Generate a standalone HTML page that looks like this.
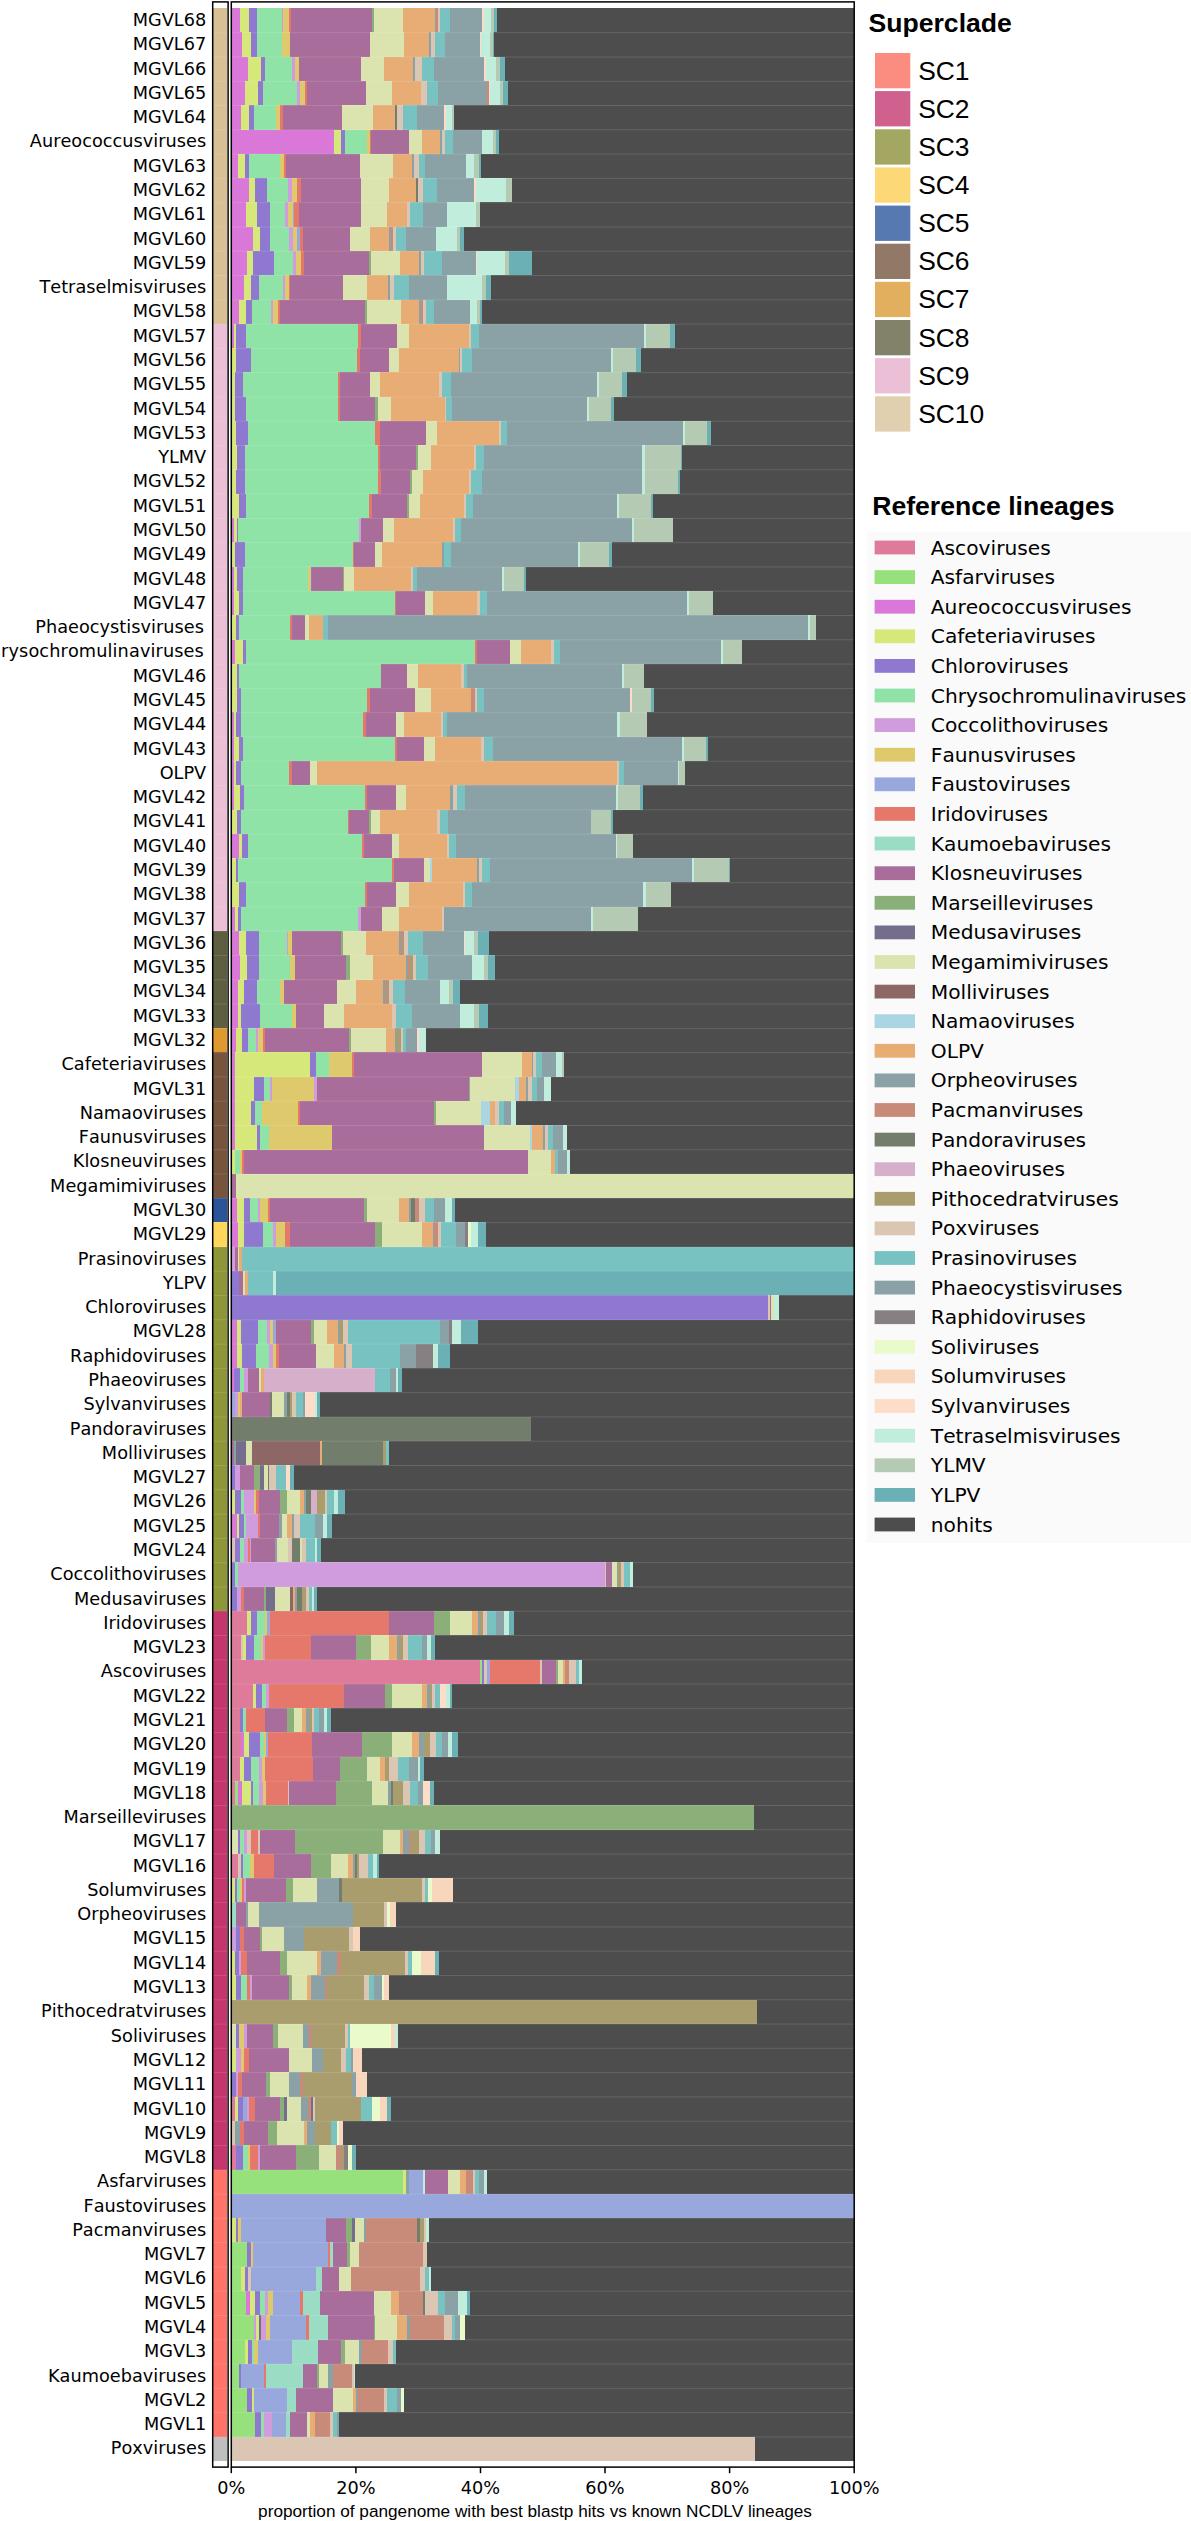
<!DOCTYPE html>
<html lang="en"><head><meta charset="utf-8"><title>Pangenome best blastp hits vs known NCLDV lineages</title>
<style>html,body{margin:0;padding:0;background:#fff}body{width:1191px;height:2521px;overflow:hidden}svg{display:block}.yl{font:17.7px "DejaVu Sans","Liberation Sans",sans-serif;font-kerning:none;fill:#000;text-anchor:end}.xt{font:17.7px "DejaVu Sans","Liberation Sans",sans-serif;font-kerning:none;fill:#000;text-anchor:middle}.xl{font:17.2px "Liberation Sans",sans-serif;fill:#000;text-anchor:middle}.lt{font:bold 26.6px "Liberation Sans",sans-serif;fill:#000}.sl{font:26.4px "Liberation Sans",sans-serif;fill:#000}.rl{font:20.2px "DejaVu Sans","Liberation Sans",sans-serif;font-kerning:none;fill:#000}</style></head><body>
<svg width="1191" height="2521" viewBox="0 0 1191 2521">
<rect width="1191" height="2521" fill="#fff"/>
<defs><filter id="soft" x="-0.02" y="-0.01" width="1.04" height="1.02" color-interpolation-filters="sRGB"><feGaussianBlur stdDeviation="0.5"/></filter></defs>
<g filter="url(#soft)"><g shape-rendering="crispEdges">
<rect x="231.3" y="8.1" width="622.9" height="2452.8" fill="#4D4D4D"/>
<rect x="231.3" y="8.1" width="9.1" height="24.3" fill="#DA78DA"/><rect x="240.1" y="8.1" width="9.6" height="24.3" fill="#D6E87A"/><rect x="249.4" y="8.1" width="7.6" height="24.3" fill="#8F78CF"/><rect x="256.7" y="8.1" width="25.2" height="24.3" fill="#8FE3A7"/><rect x="281.7" y="8.1" width="1.3" height="24.3" fill="#D09CDD"/><rect x="282.7" y="8.1" width="6.1" height="24.3" fill="#DECA6C"/><rect x="288.5" y="8.1" width="2.3" height="24.3" fill="#E5786B"/><rect x="290.5" y="8.1" width="81.4" height="24.3" fill="#A86D9B"/><rect x="371.6" y="8.1" width="2.3" height="24.3" fill="#8BAF79"/><rect x="373.6" y="8.1" width="29.8" height="24.3" fill="#DBE4AE"/><rect x="403.1" y="8.1" width="31.8" height="24.3" fill="#E8AC75"/><rect x="434.5" y="8.1" width="2.1" height="24.3" fill="#8AA2A5"/><rect x="436.3" y="8.1" width="2.3" height="24.3" fill="#C98B79"/><rect x="438.3" y="8.1" width="2.1" height="24.3" fill="#DBC6B4"/><rect x="440.1" y="8.1" width="10.4" height="24.3" fill="#78C3C1"/><rect x="450.2" y="8.1" width="31.8" height="24.3" fill="#8AA1A5"/><rect x="481.7" y="8.1" width="2.3" height="24.3" fill="#FDDCC8"/><rect x="483.7" y="8.1" width="7.9" height="24.3" fill="#C1EEDC"/><rect x="491.2" y="8.1" width="2.8" height="24.3" fill="#B5CAB2"/><rect x="493.7" y="8.1" width="2.8" height="24.3" fill="#6BB0B4"/>
<rect x="213.4" y="8.1" width="13.9" height="24.3" fill="#D9BF94"/>
<rect x="231.3" y="32.4" width="10.9" height="24.3" fill="#DA78DA"/><rect x="241.9" y="32.4" width="9.1" height="24.3" fill="#D6E87A"/><rect x="250.7" y="32.4" width="6.3" height="24.3" fill="#8F78CF"/><rect x="256.7" y="32.4" width="25.7" height="24.3" fill="#8FE3A7"/><rect x="282.2" y="32.4" width="7.9" height="24.3" fill="#DECA6C"/><rect x="289.7" y="32.4" width="80.9" height="24.3" fill="#A86D9B"/><rect x="370.3" y="32.4" width="33.5" height="24.3" fill="#DBE4AE"/><rect x="403.6" y="32.4" width="25.5" height="24.3" fill="#E8AC75"/><rect x="428.8" y="32.4" width="2.3" height="24.3" fill="#8AA2A5"/><rect x="430.8" y="32.4" width="4.1" height="24.3" fill="#DBC6B4"/><rect x="434.5" y="32.4" width="10.9" height="24.3" fill="#78C3C1"/><rect x="445.1" y="32.4" width="35.1" height="24.3" fill="#8AA1A5"/><rect x="479.9" y="32.4" width="1.6" height="24.3" fill="#FDDCC8"/><rect x="481.1" y="32.4" width="8.6" height="24.3" fill="#C1EEDC"/><rect x="489.5" y="32.4" width="3.8" height="24.3" fill="#B5CAB2"/><rect x="493" y="32.4" width="1.3" height="24.3" fill="#6BB0B4"/>
<rect x="213.4" y="32.4" width="13.9" height="24.3" fill="#D9BF94"/>
<rect x="231.3" y="56.7" width="17.2" height="24.3" fill="#DA78DA"/><rect x="248.2" y="56.7" width="13.4" height="24.3" fill="#D6E87A"/><rect x="261.2" y="56.7" width="3.6" height="24.3" fill="#8F78CF"/><rect x="264.5" y="56.7" width="27.3" height="24.3" fill="#8FE3A7"/><rect x="291.5" y="56.7" width="3.6" height="24.3" fill="#D09CDD"/><rect x="294.8" y="56.7" width="4.8" height="24.3" fill="#DECA6C"/><rect x="299.3" y="56.7" width="62" height="24.3" fill="#A86D9B"/><rect x="361" y="56.7" width="23.5" height="24.3" fill="#DBE4AE"/><rect x="384.2" y="56.7" width="29.3" height="24.3" fill="#E8AC75"/><rect x="413.1" y="56.7" width="2.1" height="24.3" fill="#8AA2A5"/><rect x="414.9" y="56.7" width="6.8" height="24.3" fill="#DBC6B4"/><rect x="421.5" y="56.7" width="12.6" height="24.3" fill="#78C3C1"/><rect x="433.8" y="56.7" width="50.7" height="24.3" fill="#8AA1A5"/><rect x="484.2" y="56.7" width="2.3" height="24.3" fill="#FDDCC8"/><rect x="486.2" y="56.7" width="9.6" height="24.3" fill="#C1EEDC"/><rect x="495.5" y="56.7" width="4.3" height="24.3" fill="#B5CAB2"/><rect x="499.5" y="56.7" width="5.1" height="24.3" fill="#6BB0B4"/>
<rect x="213.4" y="56.7" width="13.9" height="24.3" fill="#D9BF94"/>
<rect x="231.3" y="81" width="13.6" height="24.3" fill="#DA78DA"/><rect x="244.6" y="81" width="13.9" height="24.3" fill="#D6E87A"/><rect x="258.2" y="81" width="5.1" height="24.3" fill="#8F78CF"/><rect x="263" y="81" width="34.3" height="24.3" fill="#8FE3A7"/><rect x="297" y="81" width="3.6" height="24.3" fill="#D09CDD"/><rect x="300.3" y="81" width="4.8" height="24.3" fill="#DECA6C"/><rect x="304.8" y="81" width="2.1" height="24.3" fill="#E5786B"/><rect x="306.6" y="81" width="59.7" height="24.3" fill="#A86D9B"/><rect x="366" y="81" width="26.5" height="24.3" fill="#DBE4AE"/><rect x="392.2" y="81" width="28.8" height="24.3" fill="#E8AC75"/><rect x="420.7" y="81" width="6.1" height="24.3" fill="#DBC6B4"/><rect x="426.5" y="81" width="11.6" height="24.3" fill="#78C3C1"/><rect x="437.8" y="81" width="49.4" height="24.3" fill="#8AA1A5"/><rect x="486.9" y="81" width="1.8" height="24.3" fill="#C98B79"/><rect x="488.5" y="81" width="1.8" height="24.3" fill="#FDDCC8"/><rect x="490" y="81" width="10.4" height="24.3" fill="#C1EEDC"/><rect x="500" y="81" width="3.3" height="24.3" fill="#B5CAB2"/><rect x="503.1" y="81" width="4.8" height="24.3" fill="#6BB0B4"/>
<rect x="213.4" y="81" width="13.9" height="24.3" fill="#D9BF94"/>
<rect x="231.3" y="105.2" width="9.6" height="24.3" fill="#DA78DA"/><rect x="240.6" y="105.2" width="8.4" height="24.3" fill="#D6E87A"/><rect x="248.7" y="105.2" width="5.8" height="24.3" fill="#8F78CF"/><rect x="254.2" y="105.2" width="22" height="24.3" fill="#8FE3A7"/><rect x="275.9" y="105.2" width="4.8" height="24.3" fill="#DECA6C"/><rect x="280.4" y="105.2" width="2.6" height="24.3" fill="#E5786B"/><rect x="282.7" y="105.2" width="59.5" height="24.3" fill="#A86D9B"/><rect x="341.9" y="105.2" width="31.3" height="24.3" fill="#DBE4AE"/><rect x="372.8" y="105.2" width="22.2" height="24.3" fill="#E8AC75"/><rect x="394.8" y="105.2" width="2.8" height="24.3" fill="#737D6C"/><rect x="397.3" y="105.2" width="6.1" height="24.3" fill="#DBC6B4"/><rect x="403.1" y="105.2" width="14.2" height="24.3" fill="#78C3C1"/><rect x="416.9" y="105.2" width="27.5" height="24.3" fill="#8AA1A5"/><rect x="444.1" y="105.2" width="2.3" height="24.3" fill="#FDDCC8"/><rect x="446.1" y="105.2" width="6.3" height="24.3" fill="#C1EEDC"/><rect x="452.2" y="105.2" width="1.6" height="24.3" fill="#B5CAB2"/>
<rect x="213.4" y="105.2" width="13.9" height="24.3" fill="#D9BF94"/>
<rect x="231.3" y="129.5" width="103.3" height="24.3" fill="#DA78DA"/><rect x="334.3" y="129.5" width="6.8" height="24.3" fill="#D6E87A"/><rect x="340.8" y="129.5" width="4.6" height="24.3" fill="#8F78CF"/><rect x="345.1" y="129.5" width="21.7" height="24.3" fill="#8FE3A7"/><rect x="366.5" y="129.5" width="3.3" height="24.3" fill="#DECA6C"/><rect x="369.6" y="129.5" width="1.6" height="24.3" fill="#E5786B"/><rect x="370.8" y="129.5" width="38.8" height="24.3" fill="#A86D9B"/><rect x="409.4" y="129.5" width="12.4" height="24.3" fill="#DBE4AE"/><rect x="421.5" y="129.5" width="19.2" height="24.3" fill="#E8AC75"/><rect x="440.3" y="129.5" width="2.1" height="24.3" fill="#8AA2A5"/><rect x="442.1" y="129.5" width="3.3" height="24.3" fill="#DBC6B4"/><rect x="445.1" y="129.5" width="8.1" height="24.3" fill="#78C3C1"/><rect x="452.9" y="129.5" width="29" height="24.3" fill="#8AA1A5"/><rect x="481.7" y="129.5" width="11.1" height="24.3" fill="#C1EEDC"/><rect x="492.5" y="129.5" width="3.3" height="24.3" fill="#B5CAB2"/><rect x="495.5" y="129.5" width="3.6" height="24.3" fill="#6BB0B4"/>
<rect x="213.4" y="129.5" width="13.9" height="24.3" fill="#D9BF94"/>
<rect x="231.3" y="153.8" width="7.1" height="24.3" fill="#DA78DA"/><rect x="238.1" y="153.8" width="7.4" height="24.3" fill="#D6E87A"/><rect x="245.1" y="153.8" width="4.1" height="24.3" fill="#8F78CF"/><rect x="248.9" y="153.8" width="31" height="24.3" fill="#8FE3A7"/><rect x="279.6" y="153.8" width="4.6" height="24.3" fill="#DECA6C"/><rect x="283.9" y="153.8" width="2.3" height="24.3" fill="#E5786B"/><rect x="285.9" y="153.8" width="74.1" height="24.3" fill="#A86D9B"/><rect x="359.7" y="153.8" width="33.5" height="24.3" fill="#DBE4AE"/><rect x="393" y="153.8" width="19.7" height="24.3" fill="#E8AC75"/><rect x="412.4" y="153.8" width="2.3" height="24.3" fill="#8AA2A5"/><rect x="414.4" y="153.8" width="4.6" height="24.3" fill="#DBC6B4"/><rect x="418.7" y="153.8" width="6.8" height="24.3" fill="#78C3C1"/><rect x="425.2" y="153.8" width="40.6" height="24.3" fill="#8AA1A5"/><rect x="465.5" y="153.8" width="8.4" height="24.3" fill="#C1EEDC"/><rect x="473.6" y="153.8" width="5.3" height="24.3" fill="#B5CAB2"/><rect x="478.6" y="153.8" width="2.3" height="24.3" fill="#6BB0B4"/>
<rect x="213.4" y="153.8" width="13.9" height="24.3" fill="#D9BF94"/>
<rect x="231.3" y="178.1" width="17.7" height="24.3" fill="#DA78DA"/><rect x="248.7" y="178.1" width="6.8" height="24.3" fill="#D6E87A"/><rect x="255.2" y="178.1" width="12.1" height="24.3" fill="#8F78CF"/><rect x="267" y="178.1" width="21.2" height="24.3" fill="#8FE3A7"/><rect x="287.9" y="178.1" width="4.6" height="24.3" fill="#D09CDD"/><rect x="292.2" y="178.1" width="4.6" height="24.3" fill="#DECA6C"/><rect x="296.5" y="178.1" width="4.8" height="24.3" fill="#E5786B"/><rect x="301" y="178.1" width="60.2" height="24.3" fill="#A86D9B"/><rect x="361" y="178.1" width="27.8" height="24.3" fill="#DBE4AE"/><rect x="388.5" y="178.1" width="27.5" height="24.3" fill="#E8AC75"/><rect x="415.7" y="178.1" width="2.8" height="24.3" fill="#737D6C"/><rect x="418.2" y="178.1" width="5.3" height="24.3" fill="#DBC6B4"/><rect x="423.2" y="178.1" width="13.7" height="24.3" fill="#78C3C1"/><rect x="436.6" y="178.1" width="38.1" height="24.3" fill="#8AA1A5"/><rect x="474.3" y="178.1" width="2.3" height="24.3" fill="#FDDCC8"/><rect x="476.4" y="178.1" width="30.3" height="24.3" fill="#C1EEDC"/><rect x="506.3" y="178.1" width="5.3" height="24.3" fill="#B5CAB2"/>
<rect x="213.4" y="178.1" width="13.9" height="24.3" fill="#D9BF94"/>
<rect x="231.3" y="202.4" width="15.1" height="24.3" fill="#DA78DA"/><rect x="246.1" y="202.4" width="10.6" height="24.3" fill="#D6E87A"/><rect x="256.5" y="202.4" width="14.2" height="24.3" fill="#8F78CF"/><rect x="270.3" y="202.4" width="14.7" height="24.3" fill="#8FE3A7"/><rect x="284.7" y="202.4" width="3.3" height="24.3" fill="#D09CDD"/><rect x="287.7" y="202.4" width="5.3" height="24.3" fill="#DECA6C"/><rect x="292.7" y="202.4" width="1.6" height="24.3" fill="#98A8DD"/><rect x="294" y="202.4" width="4.8" height="24.3" fill="#E5786B"/><rect x="298.5" y="202.4" width="62.5" height="24.3" fill="#A86D9B"/><rect x="360.7" y="202.4" width="26.2" height="24.3" fill="#DBE4AE"/><rect x="386.7" y="202.4" width="21" height="24.3" fill="#E8AC75"/><rect x="407.3" y="202.4" width="3.3" height="24.3" fill="#DBC6B4"/><rect x="410.4" y="202.4" width="12.4" height="24.3" fill="#78C3C1"/><rect x="422.5" y="202.4" width="24.5" height="24.3" fill="#8AA1A5"/><rect x="446.6" y="202.4" width="29.8" height="24.3" fill="#C1EEDC"/><rect x="476.1" y="202.4" width="4.1" height="24.3" fill="#B5CAB2"/>
<rect x="213.4" y="202.4" width="13.9" height="24.3" fill="#D9BF94"/>
<rect x="231.3" y="226.7" width="22.2" height="24.3" fill="#DA78DA"/><rect x="253.2" y="226.7" width="7.1" height="24.3" fill="#D6E87A"/><rect x="260" y="226.7" width="9.9" height="24.3" fill="#8F78CF"/><rect x="269.6" y="226.7" width="19.9" height="24.3" fill="#8FE3A7"/><rect x="289.2" y="226.7" width="3.6" height="24.3" fill="#D09CDD"/><rect x="292.5" y="226.7" width="4.6" height="24.3" fill="#DECA6C"/><rect x="296.8" y="226.7" width="3.1" height="24.3" fill="#98A8DD"/><rect x="299.5" y="226.7" width="3.6" height="24.3" fill="#E5786B"/><rect x="302.8" y="226.7" width="47.7" height="24.3" fill="#A86D9B"/><rect x="350.2" y="226.7" width="20.5" height="24.3" fill="#DBE4AE"/><rect x="370.3" y="226.7" width="19.2" height="24.3" fill="#E8AC75"/><rect x="389.2" y="226.7" width="2.3" height="24.3" fill="#8AA2A5"/><rect x="391.2" y="226.7" width="2.1" height="24.3" fill="#C98B79"/><rect x="393" y="226.7" width="3.6" height="24.3" fill="#DBC6B4"/><rect x="396.3" y="226.7" width="10.4" height="24.3" fill="#78C3C1"/><rect x="406.3" y="226.7" width="30" height="24.3" fill="#8AA1A5"/><rect x="436.1" y="226.7" width="20.7" height="24.3" fill="#C1EEDC"/><rect x="456.5" y="226.7" width="3.6" height="24.3" fill="#B5CAB2"/><rect x="459.7" y="226.7" width="4.6" height="24.3" fill="#6BB0B4"/>
<rect x="213.4" y="226.7" width="13.9" height="24.3" fill="#D9BF94"/>
<rect x="231.3" y="250.9" width="15.9" height="24.3" fill="#DA78DA"/><rect x="246.9" y="250.9" width="6.6" height="24.3" fill="#D6E87A"/><rect x="253.2" y="250.9" width="21.2" height="24.3" fill="#8F78CF"/><rect x="274.1" y="250.9" width="18.9" height="24.3" fill="#8FE3A7"/><rect x="292.7" y="250.9" width="3.6" height="24.3" fill="#D09CDD"/><rect x="296" y="250.9" width="4.8" height="24.3" fill="#DECA6C"/><rect x="300.5" y="250.9" width="3.3" height="24.3" fill="#E5786B"/><rect x="303.6" y="250.9" width="65.8" height="24.3" fill="#A86D9B"/><rect x="369.1" y="250.9" width="2.1" height="24.3" fill="#8BAF79"/><rect x="370.8" y="250.9" width="29.3" height="24.3" fill="#DBE4AE"/><rect x="399.8" y="250.9" width="19.2" height="24.3" fill="#E8AC75"/><rect x="418.7" y="250.9" width="2.3" height="24.3" fill="#8AA2A5"/><rect x="420.7" y="250.9" width="3.3" height="24.3" fill="#DBC6B4"/><rect x="423.7" y="250.9" width="18.7" height="24.3" fill="#78C3C1"/><rect x="442.1" y="250.9" width="33.8" height="24.3" fill="#8AA1A5"/><rect x="475.6" y="250.9" width="2.1" height="24.3" fill="#FDDCC8"/><rect x="477.4" y="250.9" width="28" height="24.3" fill="#C1EEDC"/><rect x="505.1" y="250.9" width="4.6" height="24.3" fill="#B5CAB2"/><rect x="509.4" y="250.9" width="22.5" height="24.3" fill="#6BB0B4"/>
<rect x="213.4" y="250.9" width="13.9" height="24.3" fill="#D9BF94"/>
<rect x="231.3" y="275.2" width="12.6" height="24.3" fill="#DA78DA"/><rect x="243.6" y="275.2" width="7.4" height="24.3" fill="#D6E87A"/><rect x="250.7" y="275.2" width="8.6" height="24.3" fill="#8F78CF"/><rect x="259" y="275.2" width="24.2" height="24.3" fill="#8FE3A7"/><rect x="282.9" y="275.2" width="2.1" height="24.3" fill="#D09CDD"/><rect x="284.7" y="275.2" width="4.1" height="24.3" fill="#DECA6C"/><rect x="288.5" y="275.2" width="2.1" height="24.3" fill="#E5786B"/><rect x="290.2" y="275.2" width="53.4" height="24.3" fill="#A86D9B"/><rect x="343.4" y="275.2" width="23.5" height="24.3" fill="#DBE4AE"/><rect x="366.5" y="275.2" width="21.7" height="24.3" fill="#E8AC75"/><rect x="387.9" y="275.2" width="2.3" height="24.3" fill="#8AA2A5"/><rect x="390" y="275.2" width="3.8" height="24.3" fill="#DBC6B4"/><rect x="393.5" y="275.2" width="15.7" height="24.3" fill="#78C3C1"/><rect x="408.9" y="275.2" width="38.6" height="24.3" fill="#8AA1A5"/><rect x="447.1" y="275.2" width="35.1" height="24.3" fill="#C1EEDC"/><rect x="481.9" y="275.2" width="4.6" height="24.3" fill="#B5CAB2"/><rect x="486.2" y="275.2" width="4.6" height="24.3" fill="#6BB0B4"/>
<rect x="213.4" y="275.2" width="13.9" height="24.3" fill="#D9BF94"/>
<rect x="231.3" y="299.5" width="7.8" height="24.3" fill="#DA78DA"/><rect x="238.8" y="299.5" width="7.9" height="24.3" fill="#D6E87A"/><rect x="246.4" y="299.5" width="5.6" height="24.3" fill="#8F78CF"/><rect x="251.7" y="299.5" width="19.9" height="24.3" fill="#8FE3A7"/><rect x="271.3" y="299.5" width="1.6" height="24.3" fill="#D09CDD"/><rect x="272.6" y="299.5" width="5.3" height="24.3" fill="#DECA6C"/><rect x="277.6" y="299.5" width="2.3" height="24.3" fill="#E5786B"/><rect x="279.6" y="299.5" width="85.9" height="24.3" fill="#A86D9B"/><rect x="365.3" y="299.5" width="2.3" height="24.3" fill="#8BAF79"/><rect x="367.3" y="299.5" width="34.3" height="24.3" fill="#DBE4AE"/><rect x="401.3" y="299.5" width="17.7" height="24.3" fill="#E8AC75"/><rect x="418.7" y="299.5" width="2.3" height="24.3" fill="#8AA2A5"/><rect x="420.7" y="299.5" width="2.1" height="24.3" fill="#C98B79"/><rect x="422.5" y="299.5" width="4.1" height="24.3" fill="#DBC6B4"/><rect x="426.2" y="299.5" width="7.9" height="24.3" fill="#78C3C1"/><rect x="433.8" y="299.5" width="36.3" height="24.3" fill="#8AA1A5"/><rect x="469.8" y="299.5" width="7.9" height="24.3" fill="#C1EEDC"/><rect x="477.4" y="299.5" width="2.8" height="24.3" fill="#B5CAB2"/><rect x="479.9" y="299.5" width="2.1" height="24.3" fill="#6BB0B4"/>
<rect x="213.4" y="299.5" width="13.9" height="24.3" fill="#D9BF94"/>
<rect x="231.3" y="323.8" width="2.5" height="24.3" fill="#DA78DA"/><rect x="233.5" y="323.8" width="3.1" height="24.3" fill="#D6E87A"/><rect x="236.3" y="323.8" width="10.1" height="24.3" fill="#8F78CF"/><rect x="246.1" y="323.8" width="112.4" height="24.3" fill="#8FE3A7"/><rect x="358.2" y="323.8" width="3.1" height="24.3" fill="#E5786B"/><rect x="361" y="323.8" width="36.6" height="24.3" fill="#A86D9B"/><rect x="397.3" y="323.8" width="12.4" height="24.3" fill="#DBE4AE"/><rect x="409.4" y="323.8" width="60" height="24.3" fill="#E8AC75"/><rect x="469.1" y="323.8" width="2.3" height="24.3" fill="#DBC6B4"/><rect x="471.1" y="323.8" width="8.4" height="24.3" fill="#78C3C1"/><rect x="479.1" y="323.8" width="165.3" height="24.3" fill="#8AA1A5"/><rect x="644.2" y="323.8" width="2.3" height="24.3" fill="#C1EEDC"/><rect x="646.2" y="323.8" width="24.6" height="24.3" fill="#B5CAB2"/><rect x="670.4" y="323.8" width="4.9" height="24.3" fill="#6BB0B4"/>
<rect x="213.4" y="323.8" width="13.9" height="24.3" fill="#EBBFD6"/>
<rect x="231.3" y="348.1" width="4.6" height="24.3" fill="#D6E87A"/><rect x="235.6" y="348.1" width="15.9" height="24.3" fill="#8F78CF"/><rect x="251.2" y="348.1" width="106.1" height="24.3" fill="#8FE3A7"/><rect x="357" y="348.1" width="2.8" height="24.3" fill="#E5786B"/><rect x="359.5" y="348.1" width="30" height="24.3" fill="#A86D9B"/><rect x="389.2" y="348.1" width="9.9" height="24.3" fill="#DBE4AE"/><rect x="398.8" y="348.1" width="60" height="24.3" fill="#E8AC75"/><rect x="458.5" y="348.1" width="2.1" height="24.3" fill="#8AA2A5"/><rect x="460.2" y="348.1" width="2.3" height="24.3" fill="#DBC6B4"/><rect x="462.3" y="348.1" width="10.4" height="24.3" fill="#78C3C1"/><rect x="472.3" y="348.1" width="138.7" height="24.3" fill="#8AA1A5"/><rect x="610.8" y="348.1" width="2.6" height="24.3" fill="#C1EEDC"/><rect x="613.1" y="348.1" width="22.9" height="24.3" fill="#B5CAB2"/><rect x="635.6" y="348.1" width="5.2" height="24.3" fill="#6BB0B4"/>
<rect x="213.4" y="348.1" width="13.9" height="24.3" fill="#EBBFD6"/>
<rect x="231.3" y="372.4" width="3.8" height="24.3" fill="#D6E87A"/><rect x="234.8" y="372.4" width="8.6" height="24.3" fill="#8F78CF"/><rect x="243.1" y="372.4" width="94.8" height="24.3" fill="#8FE3A7"/><rect x="337.6" y="372.4" width="2.3" height="24.3" fill="#E5786B"/><rect x="339.6" y="372.4" width="30.3" height="24.3" fill="#A86D9B"/><rect x="369.6" y="372.4" width="10.4" height="24.3" fill="#DBE4AE"/><rect x="379.6" y="372.4" width="59.5" height="24.3" fill="#E8AC75"/><rect x="438.8" y="372.4" width="3.6" height="24.3" fill="#DBC6B4"/><rect x="442.1" y="372.4" width="9.1" height="24.3" fill="#78C3C1"/><rect x="450.9" y="372.4" width="146.5" height="24.3" fill="#8AA1A5"/><rect x="597.1" y="372.4" width="2.6" height="24.3" fill="#C1EEDC"/><rect x="599.4" y="372.4" width="22.9" height="24.3" fill="#B5CAB2"/><rect x="621.9" y="372.4" width="5.4" height="24.3" fill="#6BB0B4"/>
<rect x="213.4" y="372.4" width="13.9" height="24.3" fill="#EBBFD6"/>
<rect x="231.3" y="396.7" width="4.1" height="24.3" fill="#D6E87A"/><rect x="235.1" y="396.7" width="10.9" height="24.3" fill="#8F78CF"/><rect x="245.6" y="396.7" width="92.7" height="24.3" fill="#8FE3A7"/><rect x="338.1" y="396.7" width="1.8" height="24.3" fill="#E5786B"/><rect x="339.6" y="396.7" width="36.1" height="24.3" fill="#A86D9B"/><rect x="375.4" y="396.7" width="3.3" height="24.3" fill="#8BAF79"/><rect x="378.4" y="396.7" width="13.1" height="24.3" fill="#DBE4AE"/><rect x="391.2" y="396.7" width="53.7" height="24.3" fill="#E8AC75"/><rect x="444.6" y="396.7" width="2.1" height="24.3" fill="#DBC6B4"/><rect x="446.4" y="396.7" width="6.1" height="24.3" fill="#78C3C1"/><rect x="452.2" y="396.7" width="135.2" height="24.3" fill="#8AA1A5"/><rect x="587.1" y="396.7" width="2.6" height="24.3" fill="#C1EEDC"/><rect x="589.4" y="396.7" width="21.4" height="24.3" fill="#B5CAB2"/><rect x="610.5" y="396.7" width="3.2" height="24.3" fill="#6BB0B4"/>
<rect x="213.4" y="396.7" width="13.9" height="24.3" fill="#EBBFD6"/>
<rect x="231.3" y="420.9" width="5.1" height="24.3" fill="#D6E87A"/><rect x="236.1" y="420.9" width="12.4" height="24.3" fill="#8F78CF"/><rect x="248.2" y="420.9" width="127" height="24.3" fill="#8FE3A7"/><rect x="374.9" y="420.9" width="5.3" height="24.3" fill="#E5786B"/><rect x="379.9" y="420.9" width="46.1" height="24.3" fill="#A86D9B"/><rect x="425.7" y="420.9" width="11.1" height="24.3" fill="#DBE4AE"/><rect x="436.6" y="420.9" width="63" height="24.3" fill="#E8AC75"/><rect x="499.3" y="420.9" width="2.3" height="24.3" fill="#DBC6B4"/><rect x="501.3" y="420.9" width="6.1" height="24.3" fill="#78C3C1"/><rect x="507.1" y="420.9" width="176.5" height="24.3" fill="#8AA1A5"/><rect x="683.3" y="420.9" width="2" height="24.3" fill="#C1EEDC"/><rect x="685" y="420.9" width="22.3" height="24.3" fill="#B5CAB2"/><rect x="707" y="420.9" width="4" height="24.3" fill="#6BB0B4"/>
<rect x="213.4" y="420.9" width="13.9" height="24.3" fill="#EBBFD6"/>
<rect x="231.3" y="445.2" width="6.3" height="24.3" fill="#D6E87A"/><rect x="237.3" y="445.2" width="7.9" height="24.3" fill="#8F78CF"/><rect x="244.9" y="445.2" width="133.3" height="24.3" fill="#8FE3A7"/><rect x="377.9" y="445.2" width="2.8" height="24.3" fill="#E5786B"/><rect x="380.4" y="445.2" width="36.1" height="24.3" fill="#A86D9B"/><rect x="416.2" y="445.2" width="2.3" height="24.3" fill="#8BAF79"/><rect x="418.2" y="445.2" width="12.9" height="24.3" fill="#DBE4AE"/><rect x="430.8" y="445.2" width="43.6" height="24.3" fill="#E8AC75"/><rect x="474.1" y="445.2" width="2.3" height="24.3" fill="#DBC6B4"/><rect x="476.1" y="445.2" width="7.9" height="24.3" fill="#78C3C1"/><rect x="483.7" y="445.2" width="158.8" height="24.3" fill="#8AA1A5"/><rect x="642.2" y="445.2" width="2.6" height="24.3" fill="#C1EEDC"/><rect x="644.5" y="445.2" width="36.6" height="24.3" fill="#B5CAB2"/><rect x="680.7" y="445.2" width="1.4" height="24.3" fill="#6BB0B4"/>
<rect x="213.4" y="445.2" width="13.9" height="24.3" fill="#EBBFD6"/>
<rect x="231.3" y="469.5" width="5.3" height="24.3" fill="#D6E87A"/><rect x="236.3" y="469.5" width="8.9" height="24.3" fill="#8F78CF"/><rect x="244.9" y="469.5" width="133.8" height="24.3" fill="#8FE3A7"/><rect x="378.4" y="469.5" width="2.8" height="24.3" fill="#E5786B"/><rect x="380.9" y="469.5" width="29.5" height="24.3" fill="#A86D9B"/><rect x="410.1" y="469.5" width="2.1" height="24.3" fill="#8BAF79"/><rect x="411.9" y="469.5" width="11.1" height="24.3" fill="#DBE4AE"/><rect x="422.7" y="469.5" width="46.1" height="24.3" fill="#E8AC75"/><rect x="468.6" y="469.5" width="2.3" height="24.3" fill="#DBC6B4"/><rect x="470.6" y="469.5" width="11.4" height="24.3" fill="#78C3C1"/><rect x="481.7" y="469.5" width="160.8" height="24.3" fill="#8AA1A5"/><rect x="642.2" y="469.5" width="2.6" height="24.3" fill="#C1EEDC"/><rect x="644.5" y="469.5" width="34.3" height="24.3" fill="#B5CAB2"/><rect x="678.4" y="469.5" width="2" height="24.3" fill="#6BB0B4"/>
<rect x="213.4" y="469.5" width="13.9" height="24.3" fill="#EBBFD6"/>
<rect x="231.3" y="493.8" width="7.6" height="24.3" fill="#D6E87A"/><rect x="238.6" y="493.8" width="7.9" height="24.3" fill="#8F78CF"/><rect x="246.1" y="493.8" width="123.2" height="24.3" fill="#8FE3A7"/><rect x="369.1" y="493.8" width="2.8" height="24.3" fill="#E5786B"/><rect x="371.6" y="493.8" width="36.1" height="24.3" fill="#A86D9B"/><rect x="407.3" y="493.8" width="2.3" height="24.3" fill="#8BAF79"/><rect x="409.4" y="493.8" width="11.1" height="24.3" fill="#DBE4AE"/><rect x="420.2" y="493.8" width="43.6" height="24.3" fill="#E8AC75"/><rect x="463.5" y="493.8" width="2.8" height="24.3" fill="#DBC6B4"/><rect x="466" y="493.8" width="7.4" height="24.3" fill="#78C3C1"/><rect x="473.1" y="493.8" width="143.7" height="24.3" fill="#8AA1A5"/><rect x="616.5" y="493.8" width="2.3" height="24.3" fill="#C1EEDC"/><rect x="618.5" y="493.8" width="32.3" height="24.3" fill="#B5CAB2"/><rect x="650.5" y="493.8" width="2.6" height="24.3" fill="#6BB0B4"/>
<rect x="213.4" y="493.8" width="13.9" height="24.3" fill="#EBBFD6"/>
<rect x="231.3" y="518.1" width="3.3" height="24.3" fill="#DA78DA"/><rect x="234.3" y="518.1" width="2.8" height="24.3" fill="#D6E87A"/><rect x="236.8" y="518.1" width="1.6" height="24.3" fill="#8F78CF"/><rect x="238.1" y="518.1" width="121.2" height="24.3" fill="#8FE3A7"/><rect x="359" y="518.1" width="2.3" height="24.3" fill="#D09CDD"/><rect x="361" y="518.1" width="22.7" height="24.3" fill="#A86D9B"/><rect x="383.4" y="518.1" width="11.1" height="24.3" fill="#DBE4AE"/><rect x="394.2" y="518.1" width="59" height="24.3" fill="#E8AC75"/><rect x="452.9" y="518.1" width="2.1" height="24.3" fill="#DBC6B4"/><rect x="454.7" y="518.1" width="6.6" height="24.3" fill="#78C3C1"/><rect x="461" y="518.1" width="171.5" height="24.3" fill="#8AA1A5"/><rect x="632.2" y="518.1" width="2.3" height="24.3" fill="#C1EEDC"/><rect x="634.2" y="518.1" width="38.3" height="24.3" fill="#B5CAB2"/>
<rect x="213.4" y="518.1" width="13.9" height="24.3" fill="#EBBFD6"/>
<rect x="231.3" y="542.4" width="4.1" height="24.3" fill="#D6E87A"/><rect x="235.1" y="542.4" width="10.1" height="24.3" fill="#8F78CF"/><rect x="244.9" y="542.4" width="108.1" height="24.3" fill="#8FE3A7"/><rect x="352.7" y="542.4" width="1.6" height="24.3" fill="#E5786B"/><rect x="353.9" y="542.4" width="21.7" height="24.3" fill="#A86D9B"/><rect x="375.4" y="542.4" width="7.1" height="24.3" fill="#DBE4AE"/><rect x="382.2" y="542.4" width="59.7" height="24.3" fill="#E8AC75"/><rect x="441.6" y="542.4" width="2.6" height="24.3" fill="#8AA2A5"/><rect x="443.9" y="542.4" width="7.4" height="24.3" fill="#78C3C1"/><rect x="450.9" y="542.4" width="127.3" height="24.3" fill="#8AA1A5"/><rect x="578" y="542.4" width="2.3" height="24.3" fill="#C1EEDC"/><rect x="579.9" y="542.4" width="29.4" height="24.3" fill="#B5CAB2"/><rect x="609.1" y="542.4" width="3.2" height="24.3" fill="#6BB0B4"/>
<rect x="213.4" y="542.4" width="13.9" height="24.3" fill="#EBBFD6"/>
<rect x="231.3" y="566.7" width="3.3" height="24.3" fill="#DA78DA"/><rect x="234.3" y="566.7" width="2.8" height="24.3" fill="#D6E87A"/><rect x="236.8" y="566.7" width="6.6" height="24.3" fill="#8F78CF"/><rect x="243.1" y="566.7" width="65.3" height="24.3" fill="#8FE3A7"/><rect x="308.1" y="566.7" width="2.8" height="24.3" fill="#DECA6C"/><rect x="310.6" y="566.7" width="2.1" height="24.3" fill="#8F78CF"/><rect x="312.4" y="566.7" width="30.5" height="24.3" fill="#A86D9B"/><rect x="342.6" y="566.7" width="2.1" height="24.3" fill="#8BAF79"/><rect x="344.4" y="566.7" width="10.4" height="24.3" fill="#DBE4AE"/><rect x="354.4" y="566.7" width="56.5" height="24.3" fill="#E8AC75"/><rect x="410.6" y="566.7" width="2.8" height="24.3" fill="#DBC6B4"/><rect x="413.1" y="566.7" width="4.6" height="24.3" fill="#78C3C1"/><rect x="417.4" y="566.7" width="84.7" height="24.3" fill="#8AA1A5"/><rect x="501.8" y="566.7" width="2.3" height="24.3" fill="#C1EEDC"/><rect x="503.8" y="566.7" width="20.5" height="24.3" fill="#B5CAB2"/><rect x="524" y="566.7" width="2.3" height="24.3" fill="#6BB0B4"/>
<rect x="213.4" y="566.7" width="13.9" height="24.3" fill="#EBBFD6"/>
<rect x="231.3" y="590.9" width="2.5" height="24.3" fill="#DA78DA"/><rect x="233.5" y="590.9" width="5.6" height="24.3" fill="#D6E87A"/><rect x="238.8" y="590.9" width="4.6" height="24.3" fill="#8F78CF"/><rect x="243.1" y="590.9" width="151.9" height="24.3" fill="#8FE3A7"/><rect x="394.8" y="590.9" width="1.8" height="24.3" fill="#E5786B"/><rect x="396.3" y="590.9" width="29.3" height="24.3" fill="#A86D9B"/><rect x="425.2" y="590.9" width="7.9" height="24.3" fill="#DBE4AE"/><rect x="432.8" y="590.9" width="44.9" height="24.3" fill="#E8AC75"/><rect x="477.4" y="590.9" width="2.8" height="24.3" fill="#DBC6B4"/><rect x="479.9" y="590.9" width="7.1" height="24.3" fill="#78C3C1"/><rect x="486.7" y="590.9" width="200.6" height="24.3" fill="#8AA1A5"/><rect x="687" y="590.9" width="2" height="24.3" fill="#C1EEDC"/><rect x="688.7" y="590.9" width="24.3" height="24.3" fill="#B5CAB2"/>
<rect x="213.4" y="590.9" width="13.9" height="24.3" fill="#EBBFD6"/>
<rect x="231.3" y="615.2" width="5.3" height="24.3" fill="#D6E87A"/><rect x="236.3" y="615.2" width="2.8" height="24.3" fill="#8F78CF"/><rect x="238.8" y="615.2" width="51.7" height="24.3" fill="#8FE3A7"/><rect x="290.2" y="615.2" width="1.6" height="24.3" fill="#E5786B"/><rect x="291.5" y="615.2" width="13.7" height="24.3" fill="#A86D9B"/><rect x="304.8" y="615.2" width="4.6" height="24.3" fill="#DBE4AE"/><rect x="309.1" y="615.2" width="13.7" height="24.3" fill="#E8AC75"/><rect x="322.5" y="615.2" width="5.8" height="24.3" fill="#78C3C1"/><rect x="328" y="615.2" width="480.6" height="24.3" fill="#8AA1A5"/><rect x="808.3" y="615.2" width="1.7" height="24.3" fill="#C1EEDC"/><rect x="809.8" y="615.2" width="6" height="24.3" fill="#B5CAB2"/>
<rect x="213.4" y="615.2" width="13.9" height="24.3" fill="#EBBFD6"/>
<rect x="231.3" y="639.5" width="3.8" height="24.3" fill="#DA78DA"/><rect x="234.8" y="639.5" width="8.1" height="24.3" fill="#D6E87A"/><rect x="242.6" y="639.5" width="4.1" height="24.3" fill="#8F78CF"/><rect x="246.4" y="639.5" width="229.3" height="24.3" fill="#8FE3A7"/><rect x="475.4" y="639.5" width="2.3" height="24.3" fill="#E5786B"/><rect x="477.4" y="639.5" width="33" height="24.3" fill="#A86D9B"/><rect x="510.1" y="639.5" width="11.1" height="24.3" fill="#DBE4AE"/><rect x="520.9" y="639.5" width="30.2" height="24.3" fill="#E8AC75"/><rect x="550.8" y="639.5" width="3.7" height="24.3" fill="#DBC6B4"/><rect x="554.3" y="639.5" width="6" height="24.3" fill="#78C3C1"/><rect x="560" y="639.5" width="161.6" height="24.3" fill="#8AA1A5"/><rect x="721.3" y="639.5" width="2.3" height="24.3" fill="#C1EEDC"/><rect x="723.3" y="639.5" width="18.9" height="24.3" fill="#B5CAB2"/>
<rect x="213.4" y="639.5" width="13.9" height="24.3" fill="#EBBFD6"/>
<rect x="231.3" y="663.8" width="6.3" height="24.3" fill="#D6E87A"/><rect x="237.3" y="663.8" width="1.8" height="24.3" fill="#8F78CF"/><rect x="238.8" y="663.8" width="142.4" height="24.3" fill="#8FE3A7"/><rect x="380.9" y="663.8" width="26.2" height="24.3" fill="#A86D9B"/><rect x="406.8" y="663.8" width="11.6" height="24.3" fill="#DBE4AE"/><rect x="418.2" y="663.8" width="43.1" height="24.3" fill="#E8AC75"/><rect x="461" y="663.8" width="2.8" height="24.3" fill="#DBC6B4"/><rect x="463.5" y="663.8" width="3.3" height="24.3" fill="#78C3C1"/><rect x="466.5" y="663.8" width="155.7" height="24.3" fill="#8AA1A5"/><rect x="621.9" y="663.8" width="2" height="24.3" fill="#C1EEDC"/><rect x="623.6" y="663.8" width="20.3" height="24.3" fill="#B5CAB2"/>
<rect x="213.4" y="663.8" width="13.9" height="24.3" fill="#EBBFD6"/>
<rect x="231.3" y="688.1" width="6.3" height="24.3" fill="#D6E87A"/><rect x="237.3" y="688.1" width="3.6" height="24.3" fill="#8F78CF"/><rect x="240.6" y="688.1" width="126.2" height="24.3" fill="#8FE3A7"/><rect x="366.5" y="688.1" width="3.3" height="24.3" fill="#E5786B"/><rect x="369.6" y="688.1" width="45.6" height="24.3" fill="#A86D9B"/><rect x="414.9" y="688.1" width="16.4" height="24.3" fill="#DBE4AE"/><rect x="431" y="688.1" width="40.4" height="24.3" fill="#E8AC75"/><rect x="471.1" y="688.1" width="4.1" height="24.3" fill="#C98B79"/><rect x="474.9" y="688.1" width="2.1" height="24.3" fill="#DBC6B4"/><rect x="476.6" y="688.1" width="7.9" height="24.3" fill="#78C3C1"/><rect x="484.2" y="688.1" width="146" height="24.3" fill="#8AA1A5"/><rect x="629.9" y="688.1" width="2.3" height="24.3" fill="#FDDCC8"/><rect x="631.9" y="688.1" width="19.7" height="24.3" fill="#B5CAB2"/><rect x="651.3" y="688.1" width="2.6" height="24.3" fill="#6BB0B4"/>
<rect x="213.4" y="688.1" width="13.9" height="24.3" fill="#EBBFD6"/>
<rect x="231.3" y="712.4" width="3.3" height="24.3" fill="#DA78DA"/><rect x="234.3" y="712.4" width="2.3" height="24.3" fill="#D6E87A"/><rect x="236.3" y="712.4" width="5.3" height="24.3" fill="#8F78CF"/><rect x="241.4" y="712.4" width="121.7" height="24.3" fill="#8FE3A7"/><rect x="362.8" y="712.4" width="3.6" height="24.3" fill="#E5786B"/><rect x="366" y="712.4" width="29.8" height="24.3" fill="#A86D9B"/><rect x="395.5" y="712.4" width="8.4" height="24.3" fill="#DBE4AE"/><rect x="403.6" y="712.4" width="37.6" height="24.3" fill="#E8AC75"/><rect x="440.8" y="712.4" width="2.1" height="24.3" fill="#DBC6B4"/><rect x="442.6" y="712.4" width="4.3" height="24.3" fill="#78C3C1"/><rect x="446.6" y="712.4" width="170.7" height="24.3" fill="#8AA1A5"/><rect x="617.1" y="712.4" width="3.2" height="24.3" fill="#C1EEDC"/><rect x="619.9" y="712.4" width="26.8" height="24.3" fill="#B5CAB2"/>
<rect x="213.4" y="712.4" width="13.9" height="24.3" fill="#EBBFD6"/>
<rect x="231.3" y="736.6" width="3.3" height="24.3" fill="#DA78DA"/><rect x="234.3" y="736.6" width="5.3" height="24.3" fill="#D6E87A"/><rect x="239.3" y="736.6" width="4.1" height="24.3" fill="#8F78CF"/><rect x="243.1" y="736.6" width="151.9" height="24.3" fill="#8FE3A7"/><rect x="394.8" y="736.6" width="2.3" height="24.3" fill="#E5786B"/><rect x="396.8" y="736.6" width="27.5" height="24.3" fill="#A86D9B"/><rect x="424" y="736.6" width="10.9" height="24.3" fill="#DBE4AE"/><rect x="434.5" y="736.6" width="46.9" height="24.3" fill="#E8AC75"/><rect x="481.1" y="736.6" width="3.3" height="24.3" fill="#DBC6B4"/><rect x="484.2" y="736.6" width="9.1" height="24.3" fill="#78C3C1"/><rect x="493" y="736.6" width="189.5" height="24.3" fill="#8AA1A5"/><rect x="682.1" y="736.6" width="2.6" height="24.3" fill="#C1EEDC"/><rect x="684.4" y="736.6" width="22" height="24.3" fill="#B5CAB2"/><rect x="706.1" y="736.6" width="2" height="24.3" fill="#6BB0B4"/>
<rect x="213.4" y="736.6" width="13.9" height="24.3" fill="#EBBFD6"/>
<rect x="231.3" y="760.9" width="3.3" height="24.3" fill="#DA78DA"/><rect x="234.3" y="760.9" width="2.3" height="24.3" fill="#D6E87A"/><rect x="236.3" y="760.9" width="5.1" height="24.3" fill="#8F78CF"/><rect x="241.1" y="760.9" width="48.4" height="24.3" fill="#8FE3A7"/><rect x="289.2" y="760.9" width="2.6" height="24.3" fill="#E5786B"/><rect x="291.5" y="760.9" width="18.7" height="24.3" fill="#A86D9B"/><rect x="309.9" y="760.9" width="7.4" height="24.3" fill="#DBE4AE"/><rect x="316.9" y="760.9" width="300.4" height="24.3" fill="#E8AC75"/><rect x="617.1" y="760.9" width="1.7" height="24.3" fill="#DBC6B4"/><rect x="618.5" y="760.9" width="6" height="24.3" fill="#78C3C1"/><rect x="624.2" y="760.9" width="54" height="24.3" fill="#8AA1A5"/><rect x="677.9" y="760.9" width="1.7" height="24.3" fill="#C1EEDC"/><rect x="679.3" y="760.9" width="6" height="24.3" fill="#B5CAB2"/>
<rect x="213.4" y="760.9" width="13.9" height="24.3" fill="#EBBFD6"/>
<rect x="231.3" y="785.2" width="3.3" height="24.3" fill="#DA78DA"/><rect x="234.3" y="785.2" width="5.8" height="24.3" fill="#D6E87A"/><rect x="239.8" y="785.2" width="4.1" height="24.3" fill="#8F78CF"/><rect x="243.6" y="785.2" width="121.5" height="24.3" fill="#8FE3A7"/><rect x="364.8" y="785.2" width="2.8" height="24.3" fill="#E5786B"/><rect x="367.3" y="785.2" width="29.3" height="24.3" fill="#A86D9B"/><rect x="396.3" y="785.2" width="10.1" height="24.3" fill="#DBE4AE"/><rect x="406.1" y="785.2" width="44.6" height="24.3" fill="#E8AC75"/><rect x="450.4" y="785.2" width="2.8" height="24.3" fill="#8AA2A5"/><rect x="452.9" y="785.2" width="4.6" height="24.3" fill="#DBC6B4"/><rect x="457.2" y="785.2" width="7.9" height="24.3" fill="#78C3C1"/><rect x="464.8" y="785.2" width="151.7" height="24.3" fill="#8AA1A5"/><rect x="616.2" y="785.2" width="2" height="24.3" fill="#C1EEDC"/><rect x="617.9" y="785.2" width="22.3" height="24.3" fill="#B5CAB2"/><rect x="639.9" y="785.2" width="3.2" height="24.3" fill="#6BB0B4"/>
<rect x="213.4" y="785.2" width="13.9" height="24.3" fill="#EBBFD6"/>
<rect x="231.3" y="809.5" width="6.3" height="24.3" fill="#D6E87A"/><rect x="237.3" y="809.5" width="4.1" height="24.3" fill="#8F78CF"/><rect x="241.1" y="809.5" width="106.8" height="24.3" fill="#8FE3A7"/><rect x="347.6" y="809.5" width="1.6" height="24.3" fill="#E5786B"/><rect x="348.9" y="809.5" width="20.5" height="24.3" fill="#A86D9B"/><rect x="369.1" y="809.5" width="2.3" height="24.3" fill="#8BAF79"/><rect x="371.1" y="809.5" width="9.1" height="24.3" fill="#DBE4AE"/><rect x="379.9" y="809.5" width="57.5" height="24.3" fill="#E8AC75"/><rect x="437.1" y="809.5" width="3.3" height="24.3" fill="#DBC6B4"/><rect x="440.1" y="809.5" width="8.1" height="24.3" fill="#78C3C1"/><rect x="447.9" y="809.5" width="143.2" height="24.3" fill="#8AA1A5"/><rect x="590.8" y="809.5" width="20.9" height="24.3" fill="#B5CAB2"/><rect x="611.4" y="809.5" width="2" height="24.3" fill="#6BB0B4"/>
<rect x="213.4" y="809.5" width="13.9" height="24.3" fill="#EBBFD6"/>
<rect x="231.3" y="833.8" width="8.3" height="24.3" fill="#DA78DA"/><rect x="239.3" y="833.8" width="3.3" height="24.3" fill="#D6E87A"/><rect x="242.4" y="833.8" width="6.1" height="24.3" fill="#8F78CF"/><rect x="248.2" y="833.8" width="114.4" height="24.3" fill="#8FE3A7"/><rect x="362.3" y="833.8" width="1.6" height="24.3" fill="#E5786B"/><rect x="363.5" y="833.8" width="28.5" height="24.3" fill="#A86D9B"/><rect x="391.7" y="833.8" width="7.4" height="24.3" fill="#DBE4AE"/><rect x="398.8" y="833.8" width="48.7" height="24.3" fill="#E8AC75"/><rect x="447.1" y="833.8" width="2.1" height="24.3" fill="#DBC6B4"/><rect x="448.9" y="833.8" width="7.4" height="24.3" fill="#78C3C1"/><rect x="456" y="833.8" width="160" height="24.3" fill="#8AA1A5"/><rect x="615.6" y="833.8" width="1.7" height="24.3" fill="#C1EEDC"/><rect x="617.1" y="833.8" width="16" height="24.3" fill="#B5CAB2"/>
<rect x="213.4" y="833.8" width="13.9" height="24.3" fill="#EBBFD6"/>
<rect x="231.3" y="858.1" width="5.1" height="24.3" fill="#D6E87A"/><rect x="236.1" y="858.1" width="2.3" height="24.3" fill="#8F78CF"/><rect x="238.1" y="858.1" width="154" height="24.3" fill="#8FE3A7"/><rect x="391.7" y="858.1" width="2.1" height="24.3" fill="#E5786B"/><rect x="393.5" y="858.1" width="30.8" height="24.3" fill="#A86D9B"/><rect x="424" y="858.1" width="6.6" height="24.3" fill="#DBE4AE"/><rect x="430.3" y="858.1" width="2.1" height="24.3" fill="#AAD5E2"/><rect x="432" y="858.1" width="45.6" height="24.3" fill="#E8AC75"/><rect x="477.4" y="858.1" width="2.1" height="24.3" fill="#8AA2A5"/><rect x="479.1" y="858.1" width="3.6" height="24.3" fill="#DBC6B4"/><rect x="482.4" y="858.1" width="7.4" height="24.3" fill="#78C3C1"/><rect x="489.5" y="858.1" width="203" height="24.3" fill="#8AA1A5"/><rect x="692.1" y="858.1" width="1.7" height="24.3" fill="#C1EEDC"/><rect x="693.6" y="858.1" width="36" height="24.3" fill="#B5CAB2"/><rect x="729.2" y="858.1" width="1.2" height="24.3" fill="#6BB0B4"/>
<rect x="213.4" y="858.1" width="13.9" height="24.3" fill="#EBBFD6"/>
<rect x="231.3" y="882.4" width="7.6" height="24.3" fill="#D6E87A"/><rect x="238.6" y="882.4" width="7.4" height="24.3" fill="#8F78CF"/><rect x="245.6" y="882.4" width="119.4" height="24.3" fill="#8FE3A7"/><rect x="364.8" y="882.4" width="2.8" height="24.3" fill="#E5786B"/><rect x="367.3" y="882.4" width="29.3" height="24.3" fill="#A86D9B"/><rect x="396.3" y="882.4" width="13.4" height="24.3" fill="#DBE4AE"/><rect x="409.4" y="882.4" width="53.7" height="24.3" fill="#E8AC75"/><rect x="462.8" y="882.4" width="2.3" height="24.3" fill="#DBC6B4"/><rect x="464.8" y="882.4" width="7.1" height="24.3" fill="#78C3C1"/><rect x="471.6" y="882.4" width="172" height="24.3" fill="#8AA1A5"/><rect x="643.3" y="882.4" width="2.6" height="24.3" fill="#C1EEDC"/><rect x="645.6" y="882.4" width="25.1" height="24.3" fill="#B5CAB2"/>
<rect x="213.4" y="882.4" width="13.9" height="24.3" fill="#EBBFD6"/>
<rect x="231.3" y="906.6" width="4.1" height="24.3" fill="#DA78DA"/><rect x="235.1" y="906.6" width="3.3" height="24.3" fill="#D6E87A"/><rect x="238.1" y="906.6" width="2.8" height="24.3" fill="#8F78CF"/><rect x="240.6" y="906.6" width="117.9" height="24.3" fill="#8FE3A7"/><rect x="358.2" y="906.6" width="3.1" height="24.3" fill="#D09CDD"/><rect x="361" y="906.6" width="21.5" height="24.3" fill="#A86D9B"/><rect x="382.2" y="906.6" width="16.7" height="24.3" fill="#DBE4AE"/><rect x="398.5" y="906.6" width="43.9" height="24.3" fill="#E8AC75"/><rect x="442.1" y="906.6" width="2.1" height="24.3" fill="#DBC6B4"/><rect x="443.9" y="906.6" width="147.8" height="24.3" fill="#8AA1A5"/><rect x="591.4" y="906.6" width="2.3" height="24.3" fill="#C1EEDC"/><rect x="593.4" y="906.6" width="44.8" height="24.3" fill="#B5CAB2"/>
<rect x="213.4" y="906.6" width="13.9" height="24.3" fill="#EBBFD6"/>
<rect x="231.3" y="930.9" width="7.6" height="24.3" fill="#DA78DA"/><rect x="238.6" y="930.9" width="7.4" height="24.3" fill="#D6E87A"/><rect x="245.6" y="930.9" width="13.4" height="24.3" fill="#8F78CF"/><rect x="258.7" y="930.9" width="28.3" height="24.3" fill="#8FE3A7"/><rect x="286.7" y="930.9" width="1.6" height="24.3" fill="#D09CDD"/><rect x="287.9" y="930.9" width="4.6" height="24.3" fill="#DECA6C"/><rect x="292.2" y="930.9" width="48.9" height="24.3" fill="#A86D9B"/><rect x="340.8" y="930.9" width="2.8" height="24.3" fill="#8BAF79"/><rect x="343.4" y="930.9" width="22.7" height="24.3" fill="#DBE4AE"/><rect x="365.8" y="930.9" width="33" height="24.3" fill="#E8AC75"/><rect x="398.5" y="930.9" width="2.3" height="24.3" fill="#8AA2A5"/><rect x="400.5" y="930.9" width="2.3" height="24.3" fill="#C98B79"/><rect x="402.6" y="930.9" width="2.1" height="24.3" fill="#A99D6D"/><rect x="404.3" y="930.9" width="4.1" height="24.3" fill="#DBC6B4"/><rect x="408.1" y="930.9" width="14.7" height="24.3" fill="#78C3C1"/><rect x="422.5" y="930.9" width="41.4" height="24.3" fill="#8AA1A5"/><rect x="463.5" y="930.9" width="2.1" height="24.3" fill="#FDDCC8"/><rect x="465.3" y="930.9" width="9.1" height="24.3" fill="#C1EEDC"/><rect x="474.1" y="930.9" width="4.3" height="24.3" fill="#B5CAB2"/><rect x="478.1" y="930.9" width="10.4" height="24.3" fill="#6BB0B4"/>
<rect x="213.4" y="930.9" width="13.9" height="24.3" fill="#5E5E40"/>
<rect x="231.3" y="955.2" width="8.8" height="24.3" fill="#DA78DA"/><rect x="239.8" y="955.2" width="7.9" height="24.3" fill="#D6E87A"/><rect x="247.4" y="955.2" width="11.9" height="24.3" fill="#8F78CF"/><rect x="259" y="955.2" width="31.5" height="24.3" fill="#8FE3A7"/><rect x="290.2" y="955.2" width="5.3" height="24.3" fill="#DECA6C"/><rect x="295.3" y="955.2" width="50.9" height="24.3" fill="#A86D9B"/><rect x="345.9" y="955.2" width="4.1" height="24.3" fill="#8BAF79"/><rect x="349.7" y="955.2" width="24" height="24.3" fill="#DBE4AE"/><rect x="373.3" y="955.2" width="33" height="24.3" fill="#E8AC75"/><rect x="406.1" y="955.2" width="2.3" height="24.3" fill="#8AA2A5"/><rect x="408.1" y="955.2" width="2.1" height="24.3" fill="#C98B79"/><rect x="409.9" y="955.2" width="3.6" height="24.3" fill="#A99D6D"/><rect x="413.1" y="955.2" width="2.8" height="24.3" fill="#DBC6B4"/><rect x="415.7" y="955.2" width="12.9" height="24.3" fill="#78C3C1"/><rect x="428.3" y="955.2" width="43.9" height="24.3" fill="#8AA1A5"/><rect x="471.8" y="955.2" width="12.1" height="24.3" fill="#C1EEDC"/><rect x="483.7" y="955.2" width="4.6" height="24.3" fill="#B5CAB2"/><rect x="487.9" y="955.2" width="7.4" height="24.3" fill="#6BB0B4"/>
<rect x="213.4" y="955.2" width="13.9" height="24.3" fill="#5E5E40"/>
<rect x="231.3" y="979.5" width="7.3" height="24.3" fill="#DA78DA"/><rect x="238.3" y="979.5" width="5.6" height="24.3" fill="#D6E87A"/><rect x="243.6" y="979.5" width="13.5" height="24.3" fill="#8F78CF"/><rect x="256.8" y="979.5" width="23.8" height="24.3" fill="#8FE3A7"/><rect x="280.3" y="979.5" width="3.8" height="24.3" fill="#DECA6C"/><rect x="283.8" y="979.5" width="53.8" height="24.3" fill="#A86D9B"/><rect x="337.3" y="979.5" width="19.4" height="24.3" fill="#DBE4AE"/><rect x="356.4" y="979.5" width="26.7" height="24.3" fill="#E8AC75"/><rect x="382.9" y="979.5" width="2.1" height="24.3" fill="#8AA2A5"/><rect x="384.6" y="979.5" width="2.4" height="24.3" fill="#C98B79"/><rect x="386.7" y="979.5" width="2.7" height="24.3" fill="#A99D6D"/><rect x="389" y="979.5" width="4.4" height="24.3" fill="#DBC6B4"/><rect x="393.1" y="979.5" width="12.3" height="24.3" fill="#78C3C1"/><rect x="405.2" y="979.5" width="34.7" height="24.3" fill="#8AA1A5"/><rect x="439.6" y="979.5" width="9.7" height="24.3" fill="#C1EEDC"/><rect x="449" y="979.5" width="4.1" height="24.3" fill="#B5CAB2"/><rect x="452.8" y="979.5" width="7.6" height="24.3" fill="#6BB0B4"/>
<rect x="213.4" y="979.5" width="13.9" height="24.3" fill="#5E5E40"/>
<rect x="231.3" y="1003.8" width="6.7" height="24.3" fill="#DA78DA"/><rect x="237.7" y="1003.8" width="3.2" height="24.3" fill="#D6E87A"/><rect x="240.6" y="1003.8" width="19.4" height="24.3" fill="#8F78CF"/><rect x="259.7" y="1003.8" width="32.6" height="24.3" fill="#8FE3A7"/><rect x="292.1" y="1003.8" width="4.4" height="24.3" fill="#DECA6C"/><rect x="296.2" y="1003.8" width="28.2" height="24.3" fill="#A86D9B"/><rect x="324.1" y="1003.8" width="20.3" height="24.3" fill="#DBE4AE"/><rect x="344.1" y="1003.8" width="48.2" height="24.3" fill="#E8AC75"/><rect x="392" y="1003.8" width="4.7" height="24.3" fill="#DBC6B4"/><rect x="396.4" y="1003.8" width="16.2" height="24.3" fill="#78C3C1"/><rect x="412.2" y="1003.8" width="48.2" height="24.3" fill="#8AA1A5"/><rect x="460.1" y="1003.8" width="14.4" height="24.3" fill="#C1EEDC"/><rect x="474.3" y="1003.8" width="5.3" height="24.3" fill="#B5CAB2"/><rect x="479.2" y="1003.8" width="9.1" height="24.3" fill="#6BB0B4"/>
<rect x="213.4" y="1003.8" width="13.9" height="24.3" fill="#5E5E40"/>
<rect x="231.3" y="1028.1" width="4.9" height="24.3" fill="#DA78DA"/><rect x="235.9" y="1028.1" width="6.5" height="24.3" fill="#D6E87A"/><rect x="242.1" y="1028.1" width="6.2" height="24.3" fill="#8F78CF"/><rect x="248" y="1028.1" width="8.2" height="24.3" fill="#8FE3A7"/><rect x="255.9" y="1028.1" width="2.4" height="24.3" fill="#D09CDD"/><rect x="258" y="1028.1" width="5" height="24.3" fill="#DECA6C"/><rect x="262.7" y="1028.1" width="2.9" height="24.3" fill="#E5786B"/><rect x="265.3" y="1028.1" width="83.5" height="24.3" fill="#A86D9B"/><rect x="348.5" y="1028.1" width="2.7" height="24.3" fill="#8BAF79"/><rect x="350.8" y="1028.1" width="35.3" height="24.3" fill="#DBE4AE"/><rect x="385.8" y="1028.1" width="9.1" height="24.3" fill="#E8AC75"/><rect x="394.6" y="1028.1" width="2.7" height="24.3" fill="#8AA2A5"/><rect x="397" y="1028.1" width="3.8" height="24.3" fill="#A99D6D"/><rect x="400.5" y="1028.1" width="2.7" height="24.3" fill="#DBC6B4"/><rect x="402.8" y="1028.1" width="3.8" height="24.3" fill="#78C3C1"/><rect x="406.4" y="1028.1" width="10.9" height="24.3" fill="#8AA1A5"/><rect x="417" y="1028.1" width="2.4" height="24.3" fill="#FDDCC8"/><rect x="419" y="1028.1" width="6.8" height="24.3" fill="#C1EEDC"/>
<rect x="213.4" y="1028.1" width="13.9" height="24.3" fill="#DE9A2E"/>
<rect x="231.3" y="1052.4" width="4.3" height="24.3" fill="#DA78DA"/><rect x="235.3" y="1052.4" width="75.2" height="24.3" fill="#D6E87A"/><rect x="310.3" y="1052.4" width="5.6" height="24.3" fill="#8F78CF"/><rect x="315.6" y="1052.4" width="13.2" height="24.3" fill="#8FE3A7"/><rect x="328.5" y="1052.4" width="23.8" height="24.3" fill="#DECA6C"/><rect x="352" y="1052.4" width="2.1" height="24.3" fill="#E5786B"/><rect x="353.8" y="1052.4" width="128.7" height="24.3" fill="#A86D9B"/><rect x="482.2" y="1052.4" width="40" height="24.3" fill="#DBE4AE"/><rect x="521.9" y="1052.4" width="10" height="24.3" fill="#E8AC75"/><rect x="531.6" y="1052.4" width="1.8" height="24.3" fill="#8AA2A5"/><rect x="533" y="1052.4" width="3.2" height="24.3" fill="#DBC6B4"/><rect x="536" y="1052.4" width="6.2" height="24.3" fill="#78C3C1"/><rect x="541.8" y="1052.4" width="14.1" height="24.3" fill="#8AA1A5"/><rect x="555.7" y="1052.4" width="6.2" height="24.3" fill="#C1EEDC"/><rect x="561.5" y="1052.4" width="2.4" height="24.3" fill="#B5CAB2"/>
<rect x="213.4" y="1052.4" width="13.9" height="24.3" fill="#77543C"/>
<rect x="231.3" y="1076.6" width="4.3" height="24.3" fill="#DA78DA"/><rect x="235.3" y="1076.6" width="19.4" height="24.3" fill="#D6E87A"/><rect x="254.4" y="1076.6" width="9.7" height="24.3" fill="#8F78CF"/><rect x="263.9" y="1076.6" width="6.5" height="24.3" fill="#8FE3A7"/><rect x="270" y="1076.6" width="1.8" height="24.3" fill="#D09CDD"/><rect x="271.5" y="1076.6" width="42.9" height="24.3" fill="#DECA6C"/><rect x="314.1" y="1076.6" width="3.2" height="24.3" fill="#D09CDD"/><rect x="317" y="1076.6" width="152.2" height="24.3" fill="#A86D9B"/><rect x="469" y="1076.6" width="1.8" height="24.3" fill="#8BAF79"/><rect x="470.4" y="1076.6" width="44.4" height="24.3" fill="#DBE4AE"/><rect x="514.5" y="1076.6" width="4.7" height="24.3" fill="#AAD5E2"/><rect x="518.9" y="1076.6" width="7.6" height="24.3" fill="#E8AC75"/><rect x="526.3" y="1076.6" width="1.8" height="24.3" fill="#8AA2A5"/><rect x="527.7" y="1076.6" width="4.1" height="24.3" fill="#DBC6B4"/><rect x="531.6" y="1076.6" width="5.3" height="24.3" fill="#78C3C1"/><rect x="536.6" y="1076.6" width="7.6" height="24.3" fill="#8AA1A5"/><rect x="543.9" y="1076.6" width="6.8" height="24.3" fill="#C1EEDC"/>
<rect x="213.4" y="1076.6" width="13.9" height="24.3" fill="#77543C"/>
<rect x="231.3" y="1100.9" width="4.3" height="24.3" fill="#DA78DA"/><rect x="235.3" y="1100.9" width="15.9" height="24.3" fill="#D6E87A"/><rect x="250.9" y="1100.9" width="4.7" height="24.3" fill="#8F78CF"/><rect x="255.3" y="1100.9" width="7.4" height="24.3" fill="#8FE3A7"/><rect x="262.4" y="1100.9" width="35.6" height="24.3" fill="#DECA6C"/><rect x="297.6" y="1100.9" width="2.7" height="24.3" fill="#E5786B"/><rect x="300" y="1100.9" width="134.6" height="24.3" fill="#A86D9B"/><rect x="434.3" y="1100.9" width="1.8" height="24.3" fill="#8BAF79"/><rect x="435.8" y="1100.9" width="45.3" height="24.3" fill="#DBE4AE"/><rect x="480.7" y="1100.9" width="9.1" height="24.3" fill="#AAD5E2"/><rect x="489.5" y="1100.9" width="6.2" height="24.3" fill="#E8AC75"/><rect x="495.4" y="1100.9" width="4.1" height="24.3" fill="#DBC6B4"/><rect x="499.2" y="1100.9" width="5.3" height="24.3" fill="#78C3C1"/><rect x="504.2" y="1100.9" width="6.8" height="24.3" fill="#8AA1A5"/><rect x="510.7" y="1100.9" width="5.6" height="24.3" fill="#C1EEDC"/>
<rect x="213.4" y="1100.9" width="13.9" height="24.3" fill="#77543C"/>
<rect x="231.3" y="1125.2" width="4.3" height="24.3" fill="#DA78DA"/><rect x="235.3" y="1125.2" width="21.8" height="24.3" fill="#D6E87A"/><rect x="256.8" y="1125.2" width="3.8" height="24.3" fill="#8F78CF"/><rect x="260.3" y="1125.2" width="9.1" height="24.3" fill="#8FE3A7"/><rect x="269.1" y="1125.2" width="62.9" height="24.3" fill="#DECA6C"/><rect x="331.7" y="1125.2" width="152.2" height="24.3" fill="#A86D9B"/><rect x="483.7" y="1125.2" width="46.4" height="24.3" fill="#DBE4AE"/><rect x="529.8" y="1125.2" width="2.7" height="24.3" fill="#AAD5E2"/><rect x="532.1" y="1125.2" width="11.2" height="24.3" fill="#E8AC75"/><rect x="543" y="1125.2" width="2.1" height="24.3" fill="#8AA2A5"/><rect x="544.8" y="1125.2" width="3.2" height="24.3" fill="#DBC6B4"/><rect x="547.7" y="1125.2" width="5.9" height="24.3" fill="#78C3C1"/><rect x="553.3" y="1125.2" width="10" height="24.3" fill="#8AA1A5"/><rect x="563" y="1125.2" width="3.8" height="24.3" fill="#C1EEDC"/>
<rect x="213.4" y="1125.2" width="13.9" height="24.3" fill="#77543C"/>
<rect x="231.3" y="1149.5" width="4.3" height="24.3" fill="#D6E87A"/><rect x="235.3" y="1149.5" width="4.7" height="24.3" fill="#8FE3A7"/><rect x="239.8" y="1149.5" width="2.7" height="24.3" fill="#DECA6C"/><rect x="242.1" y="1149.5" width="1.8" height="24.3" fill="#E5786B"/><rect x="243.6" y="1149.5" width="284.5" height="24.3" fill="#A86D9B"/><rect x="527.7" y="1149.5" width="23.8" height="24.3" fill="#DBE4AE"/><rect x="551.2" y="1149.5" width="3.8" height="24.3" fill="#E8AC75"/><rect x="554.8" y="1149.5" width="3.2" height="24.3" fill="#78C3C1"/><rect x="557.7" y="1149.5" width="9.1" height="24.3" fill="#8AA1A5"/><rect x="566.5" y="1149.5" width="3.2" height="24.3" fill="#C1EEDC"/>
<rect x="213.4" y="1149.5" width="13.9" height="24.3" fill="#77543C"/>
<rect x="231.3" y="1173.8" width="5.3" height="24.3" fill="#A86D9B"/><rect x="236.3" y="1173.8" width="618.2" height="24.3" fill="#DBE4AE"/>
<rect x="213.4" y="1173.8" width="13.9" height="24.3" fill="#77543C"/>
<rect x="231.3" y="1198.1" width="5.8" height="24.3" fill="#DA78DA"/><rect x="236.8" y="1198.1" width="7.4" height="24.3" fill="#D6E87A"/><rect x="243.9" y="1198.1" width="6.6" height="24.3" fill="#8F78CF"/><rect x="250.2" y="1198.1" width="8.4" height="24.3" fill="#8FE3A7"/><rect x="258.2" y="1198.1" width="1.6" height="24.3" fill="#D09CDD"/><rect x="259.5" y="1198.1" width="9.1" height="24.3" fill="#DECA6C"/><rect x="268.3" y="1198.1" width="2.1" height="24.3" fill="#E5786B"/><rect x="270.1" y="1198.1" width="94.3" height="24.3" fill="#A86D9B"/><rect x="364" y="1198.1" width="3.6" height="24.3" fill="#8BAF79"/><rect x="367.3" y="1198.1" width="31.5" height="24.3" fill="#DBE4AE"/><rect x="398.5" y="1198.1" width="11.1" height="24.3" fill="#E8AC75"/><rect x="409.4" y="1198.1" width="2.3" height="24.3" fill="#8AA2A5"/><rect x="411.4" y="1198.1" width="3.8" height="24.3" fill="#737D6C"/><rect x="414.9" y="1198.1" width="4.1" height="24.3" fill="#C98B79"/><rect x="418.7" y="1198.1" width="6.1" height="24.3" fill="#DBC6B4"/><rect x="424.5" y="1198.1" width="9.6" height="24.3" fill="#78C3C1"/><rect x="433.8" y="1198.1" width="11.1" height="24.3" fill="#8AA1A5"/><rect x="444.6" y="1198.1" width="7.9" height="24.3" fill="#C1EEDC"/><rect x="452.2" y="1198.1" width="2.8" height="24.3" fill="#6BB0B4"/>
<rect x="213.4" y="1198.1" width="13.9" height="24.3" fill="#2A5599"/>
<rect x="231.3" y="1222.3" width="7.1" height="24.3" fill="#DA78DA"/><rect x="238.1" y="1222.3" width="6.1" height="24.3" fill="#D6E87A"/><rect x="243.9" y="1222.3" width="19.7" height="24.3" fill="#8F78CF"/><rect x="263.3" y="1222.3" width="10.4" height="24.3" fill="#8FE3A7"/><rect x="273.3" y="1222.3" width="2.8" height="24.3" fill="#D09CDD"/><rect x="275.9" y="1222.3" width="9.1" height="24.3" fill="#DECA6C"/><rect x="284.7" y="1222.3" width="5.3" height="24.3" fill="#E5786B"/><rect x="289.7" y="1222.3" width="85.9" height="24.3" fill="#A86D9B"/><rect x="375.4" y="1222.3" width="6.6" height="24.3" fill="#8BAF79"/><rect x="381.7" y="1222.3" width="40.6" height="24.3" fill="#DBE4AE"/><rect x="422" y="1222.3" width="10.9" height="24.3" fill="#E8AC75"/><rect x="432.5" y="1222.3" width="1.8" height="24.3" fill="#8AA2A5"/><rect x="434" y="1222.3" width="3.8" height="24.3" fill="#C98B79"/><rect x="437.6" y="1222.3" width="3.6" height="24.3" fill="#DBC6B4"/><rect x="440.8" y="1222.3" width="15.4" height="24.3" fill="#78C3C1"/><rect x="456" y="1222.3" width="9.1" height="24.3" fill="#8AA1A5"/><rect x="464.8" y="1222.3" width="3.3" height="24.3" fill="#878082"/><rect x="467.8" y="1222.3" width="3.6" height="24.3" fill="#E9FBCB"/><rect x="471.1" y="1222.3" width="7.4" height="24.3" fill="#C1EEDC"/><rect x="478.1" y="1222.3" width="7.6" height="24.3" fill="#6BB0B4"/>
<rect x="213.4" y="1222.3" width="13.9" height="24.3" fill="#FFD65A"/>
<rect x="231.3" y="1246.6" width="4.1" height="24.3" fill="#D09CDD"/><rect x="235.1" y="1246.6" width="2.8" height="24.3" fill="#A86D9B"/><rect x="237.6" y="1246.6" width="1.6" height="24.3" fill="#DBE4AE"/><rect x="238.8" y="1246.6" width="3.3" height="24.3" fill="#E8AC75"/><rect x="241.9" y="1246.6" width="612.6" height="24.3" fill="#78C3C1"/>
<rect x="213.4" y="1246.6" width="13.9" height="24.3" fill="#8E9738"/>
<rect x="231.3" y="1270.9" width="7.8" height="24.3" fill="#8F78CF"/><rect x="238.8" y="1270.9" width="4.6" height="24.3" fill="#A86D9B"/><rect x="243.1" y="1270.9" width="2.3" height="24.3" fill="#DBE4AE"/><rect x="245.1" y="1270.9" width="2.8" height="24.3" fill="#E8AC75"/><rect x="247.6" y="1270.9" width="26" height="24.3" fill="#78C3C1"/><rect x="273.3" y="1270.9" width="2.8" height="24.3" fill="#C1EEDC"/><rect x="275.9" y="1270.9" width="578.6" height="24.3" fill="#6BB0B4"/>
<rect x="213.4" y="1270.9" width="13.9" height="24.3" fill="#8E9738"/>
<rect x="231.3" y="1295.2" width="537.1" height="24.3" fill="#8F78CF"/><rect x="768.1" y="1295.2" width="2" height="24.3" fill="#DBC6B4"/><rect x="769.8" y="1295.2" width="1.7" height="24.3" fill="#A86D9B"/><rect x="771.2" y="1295.2" width="2.9" height="24.3" fill="#DBE4AE"/><rect x="773.8" y="1295.2" width="5.1" height="24.3" fill="#C1EEDC"/>
<rect x="213.4" y="1295.2" width="13.9" height="24.3" fill="#8E9738"/>
<rect x="231.3" y="1319.5" width="5.8" height="24.3" fill="#DA78DA"/><rect x="236.8" y="1319.5" width="4.1" height="24.3" fill="#D6E87A"/><rect x="240.6" y="1319.5" width="17.2" height="24.3" fill="#8F78CF"/><rect x="257.5" y="1319.5" width="9.9" height="24.3" fill="#8FE3A7"/><rect x="267" y="1319.5" width="3.3" height="24.3" fill="#D09CDD"/><rect x="270.1" y="1319.5" width="3.6" height="24.3" fill="#DECA6C"/><rect x="273.3" y="1319.5" width="3.3" height="24.3" fill="#98A8DD"/><rect x="276.4" y="1319.5" width="35.1" height="24.3" fill="#A86D9B"/><rect x="311.1" y="1319.5" width="3.6" height="24.3" fill="#8BAF79"/><rect x="314.4" y="1319.5" width="12.6" height="24.3" fill="#DBE4AE"/><rect x="326.7" y="1319.5" width="11.9" height="24.3" fill="#E8AC75"/><rect x="338.3" y="1319.5" width="2.1" height="24.3" fill="#8AA2A5"/><rect x="340.1" y="1319.5" width="2.8" height="24.3" fill="#A99D6D"/><rect x="342.6" y="1319.5" width="5.3" height="24.3" fill="#DBC6B4"/><rect x="347.6" y="1319.5" width="93" height="24.3" fill="#78C3C1"/><rect x="440.3" y="1319.5" width="9.1" height="24.3" fill="#8AA1A5"/><rect x="449.2" y="1319.5" width="2.8" height="24.3" fill="#878082"/><rect x="451.7" y="1319.5" width="9.6" height="24.3" fill="#C1EEDC"/><rect x="461" y="1319.5" width="16.7" height="24.3" fill="#6BB0B4"/>
<rect x="213.4" y="1319.5" width="13.9" height="24.3" fill="#8E9738"/>
<rect x="231.3" y="1343.8" width="5.8" height="24.3" fill="#DA78DA"/><rect x="236.8" y="1343.8" width="5.3" height="24.3" fill="#D6E87A"/><rect x="241.9" y="1343.8" width="14.2" height="24.3" fill="#8F78CF"/><rect x="255.7" y="1343.8" width="13.7" height="24.3" fill="#8FE3A7"/><rect x="269.1" y="1343.8" width="3.8" height="24.3" fill="#D09CDD"/><rect x="272.6" y="1343.8" width="3.6" height="24.3" fill="#DECA6C"/><rect x="275.9" y="1343.8" width="3.3" height="24.3" fill="#E5786B"/><rect x="278.9" y="1343.8" width="37.6" height="24.3" fill="#A86D9B"/><rect x="316.2" y="1343.8" width="17.9" height="24.3" fill="#DBE4AE"/><rect x="333.8" y="1343.8" width="10.9" height="24.3" fill="#E8AC75"/><rect x="344.4" y="1343.8" width="2.3" height="24.3" fill="#8AA2A5"/><rect x="346.4" y="1343.8" width="6.1" height="24.3" fill="#DBC6B4"/><rect x="352.2" y="1343.8" width="48.2" height="24.3" fill="#78C3C1"/><rect x="400" y="1343.8" width="15.9" height="24.3" fill="#8AA1A5"/><rect x="415.7" y="1343.8" width="17.9" height="24.3" fill="#878082"/><rect x="433.3" y="1343.8" width="5.3" height="24.3" fill="#C1EEDC"/><rect x="438.3" y="1343.8" width="12.1" height="24.3" fill="#6BB0B4"/>
<rect x="213.4" y="1343.8" width="13.9" height="24.3" fill="#8E9738"/>
<rect x="231.3" y="1368.1" width="2.9" height="24.3" fill="#DA78DA"/><rect x="233.9" y="1368.1" width="6.2" height="24.3" fill="#8F78CF"/><rect x="239.8" y="1368.1" width="4.8" height="24.3" fill="#8FE3A7"/><rect x="244.3" y="1368.1" width="3.8" height="24.3" fill="#D09CDD"/><rect x="247.8" y="1368.1" width="11.6" height="24.3" fill="#A86D9B"/><rect x="259.1" y="1368.1" width="2.3" height="24.3" fill="#DBE4AE"/><rect x="261.1" y="1368.1" width="3.3" height="24.3" fill="#E8AC75"/><rect x="264.1" y="1368.1" width="111.5" height="24.3" fill="#D6B0CB"/><rect x="375.3" y="1368.1" width="15.1" height="24.3" fill="#78C3C1"/><rect x="390" y="1368.1" width="5.8" height="24.3" fill="#8AA1A5"/><rect x="395.6" y="1368.1" width="3.2" height="24.3" fill="#C1EEDC"/><rect x="398.4" y="1368.1" width="4" height="24.3" fill="#6BB0B4"/>
<rect x="213.4" y="1368.1" width="13.9" height="24.3" fill="#8E9738"/>
<rect x="231.3" y="1392.3" width="4.2" height="24.3" fill="#98A8DD"/><rect x="235.2" y="1392.3" width="2.8" height="24.3" fill="#D09CDD"/><rect x="237.7" y="1392.3" width="2.3" height="24.3" fill="#DECA6C"/><rect x="239.8" y="1392.3" width="2.8" height="24.3" fill="#E8AC75"/><rect x="242.3" y="1392.3" width="28" height="24.3" fill="#A86D9B"/><rect x="270" y="1392.3" width="2" height="24.3" fill="#737D6C"/><rect x="271.7" y="1392.3" width="12.9" height="24.3" fill="#DBE4AE"/><rect x="284.3" y="1392.3" width="3.2" height="24.3" fill="#8AA2A5"/><rect x="287.1" y="1392.3" width="3.3" height="24.3" fill="#737D6C"/><rect x="290.1" y="1392.3" width="2" height="24.3" fill="#A99D6D"/><rect x="291.8" y="1392.3" width="4.2" height="24.3" fill="#DBC6B4"/><rect x="295.7" y="1392.3" width="7.4" height="24.3" fill="#78C3C1"/><rect x="302.7" y="1392.3" width="2.5" height="24.3" fill="#8AA1A5"/><rect x="304.9" y="1392.3" width="9.9" height="24.3" fill="#FDDCC8"/><rect x="314.5" y="1392.3" width="2.8" height="24.3" fill="#C1EEDC"/><rect x="317" y="1392.3" width="3.3" height="24.3" fill="#6BB0B4"/>
<rect x="213.4" y="1392.3" width="13.9" height="24.3" fill="#8E9738"/>
<rect x="231.3" y="1416.6" width="299.8" height="24.3" fill="#737D6C"/>
<rect x="213.4" y="1416.6" width="13.9" height="24.3" fill="#8E9738"/>
<rect x="231.3" y="1440.9" width="2.5" height="24.3" fill="#A86D9B"/><rect x="233.5" y="1440.9" width="2.3" height="24.3" fill="#8AA2A5"/><rect x="235.6" y="1440.9" width="10.9" height="24.3" fill="#746D8C"/><rect x="246.1" y="1440.9" width="6.5" height="24.3" fill="#DBE4AE"/><rect x="252.3" y="1440.9" width="68" height="24.3" fill="#8D6666"/><rect x="320" y="1440.9" width="2" height="24.3" fill="#E8AC75"/><rect x="321.7" y="1440.9" width="61.1" height="24.3" fill="#737D6C"/><rect x="382.5" y="1440.9" width="3.7" height="24.3" fill="#A99D6D"/><rect x="385.9" y="1440.9" width="3.2" height="24.3" fill="#78C3C1"/>
<rect x="213.4" y="1440.9" width="13.9" height="24.3" fill="#8E9738"/>
<rect x="231.3" y="1465.2" width="3.7" height="24.3" fill="#8F78CF"/><rect x="234.7" y="1465.2" width="5.8" height="24.3" fill="#D09CDD"/><rect x="240.3" y="1465.2" width="13.6" height="24.3" fill="#A86D9B"/><rect x="253.5" y="1465.2" width="7" height="24.3" fill="#8BAF79"/><rect x="260.2" y="1465.2" width="3.7" height="24.3" fill="#746D8C"/><rect x="263.6" y="1465.2" width="4.2" height="24.3" fill="#DBE4AE"/><rect x="267.5" y="1465.2" width="2" height="24.3" fill="#737D6C"/><rect x="269.1" y="1465.2" width="7.5" height="24.3" fill="#DBC6B4"/><rect x="276.4" y="1465.2" width="9.9" height="24.3" fill="#78C3C1"/><rect x="285.9" y="1465.2" width="4.5" height="24.3" fill="#FDDCC8"/><rect x="290.1" y="1465.2" width="4" height="24.3" fill="#6BB0B4"/>
<rect x="213.4" y="1465.2" width="13.9" height="24.3" fill="#8E9738"/>
<rect x="231.3" y="1489.5" width="4.2" height="24.3" fill="#D6E87A"/><rect x="235.2" y="1489.5" width="6.2" height="24.3" fill="#8F78CF"/><rect x="241.1" y="1489.5" width="3.5" height="24.3" fill="#8FE3A7"/><rect x="244.3" y="1489.5" width="9.7" height="24.3" fill="#D09CDD"/><rect x="253.7" y="1489.5" width="2.3" height="24.3" fill="#DECA6C"/><rect x="255.7" y="1489.5" width="3.2" height="24.3" fill="#E5786B"/><rect x="258.6" y="1489.5" width="21.8" height="24.3" fill="#A86D9B"/><rect x="280.1" y="1489.5" width="7" height="24.3" fill="#8BAF79"/><rect x="286.8" y="1489.5" width="13.4" height="24.3" fill="#DBE4AE"/><rect x="299.9" y="1489.5" width="4.3" height="24.3" fill="#E8AC75"/><rect x="303.9" y="1489.5" width="2.5" height="24.3" fill="#8AA2A5"/><rect x="306.1" y="1489.5" width="4.8" height="24.3" fill="#737D6C"/><rect x="310.6" y="1489.5" width="7" height="24.3" fill="#D6B0CB"/><rect x="317.3" y="1489.5" width="7.9" height="24.3" fill="#A99D6D"/><rect x="324.9" y="1489.5" width="2.5" height="24.3" fill="#DBC6B4"/><rect x="327.1" y="1489.5" width="7" height="24.3" fill="#78C3C1"/><rect x="333.8" y="1489.5" width="4.8" height="24.3" fill="#C1EEDC"/><rect x="338.3" y="1489.5" width="6.7" height="24.3" fill="#6BB0B4"/>
<rect x="213.4" y="1489.5" width="13.9" height="24.3" fill="#8E9738"/>
<rect x="231.3" y="1513.8" width="5.9" height="24.3" fill="#DA78DA"/><rect x="236.9" y="1513.8" width="2.7" height="24.3" fill="#D6E87A"/><rect x="239.3" y="1513.8" width="5" height="24.3" fill="#8F78CF"/><rect x="244" y="1513.8" width="2.5" height="24.3" fill="#8FE3A7"/><rect x="246.1" y="1513.8" width="12.1" height="24.3" fill="#D09CDD"/><rect x="257.9" y="1513.8" width="2.3" height="24.3" fill="#E5786B"/><rect x="259.9" y="1513.8" width="19.6" height="24.3" fill="#A86D9B"/><rect x="279.2" y="1513.8" width="2.8" height="24.3" fill="#8AA2A5"/><rect x="281.7" y="1513.8" width="5.7" height="24.3" fill="#DBE4AE"/><rect x="287.1" y="1513.8" width="5" height="24.3" fill="#E8AC75"/><rect x="291.8" y="1513.8" width="2.3" height="24.3" fill="#8AA2A5"/><rect x="293.8" y="1513.8" width="6.7" height="24.3" fill="#DBC6B4"/><rect x="300.2" y="1513.8" width="15.4" height="24.3" fill="#78C3C1"/><rect x="315.3" y="1513.8" width="7.5" height="24.3" fill="#8AA1A5"/><rect x="322.5" y="1513.8" width="4.8" height="24.3" fill="#C1EEDC"/><rect x="327.1" y="1513.8" width="4.8" height="24.3" fill="#6BB0B4"/>
<rect x="213.4" y="1513.8" width="13.9" height="24.3" fill="#8E9738"/>
<rect x="231.3" y="1538.1" width="4.2" height="24.3" fill="#DBC6B4"/><rect x="235.2" y="1538.1" width="5.2" height="24.3" fill="#8F78CF"/><rect x="240.1" y="1538.1" width="4.5" height="24.3" fill="#8FE3A7"/><rect x="244.3" y="1538.1" width="3.8" height="24.3" fill="#D09CDD"/><rect x="247.8" y="1538.1" width="2" height="24.3" fill="#E5786B"/><rect x="249.5" y="1538.1" width="2" height="24.3" fill="#D09CDD"/><rect x="251.2" y="1538.1" width="23.6" height="24.3" fill="#A86D9B"/><rect x="274.5" y="1538.1" width="3" height="24.3" fill="#8AA2A5"/><rect x="277.2" y="1538.1" width="11" height="24.3" fill="#DBE4AE"/><rect x="287.9" y="1538.1" width="4.2" height="24.3" fill="#DBC6B4"/><rect x="291.8" y="1538.1" width="8.4" height="24.3" fill="#737D6C"/><rect x="299.9" y="1538.1" width="2.8" height="24.3" fill="#DBE4AE"/><rect x="302.4" y="1538.1" width="4.3" height="24.3" fill="#DBC6B4"/><rect x="306.4" y="1538.1" width="8.9" height="24.3" fill="#78C3C1"/><rect x="315" y="1538.1" width="2.3" height="24.3" fill="#C1EEDC"/><rect x="317" y="1538.1" width="3.7" height="24.3" fill="#6BB0B4"/>
<rect x="213.4" y="1538.1" width="13.9" height="24.3" fill="#8E9738"/>
<rect x="231.3" y="1562.3" width="3.8" height="24.3" fill="#8F78CF"/><rect x="234.8" y="1562.3" width="3.6" height="24.3" fill="#8FE3A7"/><rect x="238.1" y="1562.3" width="367.6" height="24.3" fill="#D09CDD"/><rect x="605.4" y="1562.3" width="1.3" height="24.3" fill="#DBC6B4"/><rect x="606.4" y="1562.3" width="5.9" height="24.3" fill="#A86D9B"/><rect x="612" y="1562.3" width="4.8" height="24.3" fill="#DBE4AE"/><rect x="616.5" y="1562.3" width="2.1" height="24.3" fill="#8AA2A5"/><rect x="618.3" y="1562.3" width="3.1" height="24.3" fill="#A99D6D"/><rect x="621.1" y="1562.3" width="3.1" height="24.3" fill="#DBC6B4"/><rect x="623.9" y="1562.3" width="6" height="24.3" fill="#78C3C1"/><rect x="629.6" y="1562.3" width="3.3" height="24.3" fill="#C1EEDC"/>
<rect x="213.4" y="1562.3" width="13.9" height="24.3" fill="#8E9738"/>
<rect x="231.3" y="1586.6" width="5.8" height="24.3" fill="#8F78CF"/><rect x="236.8" y="1586.6" width="4.6" height="24.3" fill="#D09CDD"/><rect x="241.1" y="1586.6" width="2.8" height="24.3" fill="#E5786B"/><rect x="243.6" y="1586.6" width="20.5" height="24.3" fill="#A86D9B"/><rect x="263.8" y="1586.6" width="2.3" height="24.3" fill="#8BAF79"/><rect x="265.8" y="1586.6" width="9.1" height="24.3" fill="#746D8C"/><rect x="274.6" y="1586.6" width="15.9" height="24.3" fill="#DBE4AE"/><rect x="290.2" y="1586.6" width="3.1" height="24.3" fill="#8D6666"/><rect x="293" y="1586.6" width="2.1" height="24.3" fill="#E8AC75"/><rect x="294.8" y="1586.6" width="2.8" height="24.3" fill="#8AA2A5"/><rect x="297.3" y="1586.6" width="4.8" height="24.3" fill="#737D6C"/><rect x="301.8" y="1586.6" width="4.1" height="24.3" fill="#A99D6D"/><rect x="305.6" y="1586.6" width="3.3" height="24.3" fill="#DBC6B4"/><rect x="308.6" y="1586.6" width="4.1" height="24.3" fill="#78C3C1"/><rect x="312.4" y="1586.6" width="2.3" height="24.3" fill="#C1EEDC"/><rect x="314.4" y="1586.6" width="2.6" height="24.3" fill="#6BB0B4"/>
<rect x="213.4" y="1586.6" width="13.9" height="24.3" fill="#8E9738"/>
<rect x="231.3" y="1610.9" width="15.9" height="24.3" fill="#DE7B9A"/><rect x="246.9" y="1610.9" width="4.6" height="24.3" fill="#D6E87A"/><rect x="251.2" y="1610.9" width="6.1" height="24.3" fill="#8F78CF"/><rect x="257" y="1610.9" width="7.9" height="24.3" fill="#8FE3A7"/><rect x="264.5" y="1610.9" width="2.3" height="24.3" fill="#DECA6C"/><rect x="266.5" y="1610.9" width="3.3" height="24.3" fill="#98A8DD"/><rect x="269.6" y="1610.9" width="119.9" height="24.3" fill="#E5786B"/><rect x="389.2" y="1610.9" width="45.1" height="24.3" fill="#A86D9B"/><rect x="434" y="1610.9" width="16.7" height="24.3" fill="#8BAF79"/><rect x="450.4" y="1610.9" width="21.7" height="24.3" fill="#DBE4AE"/><rect x="471.8" y="1610.9" width="6.6" height="24.3" fill="#E8AC75"/><rect x="478.1" y="1610.9" width="2.1" height="24.3" fill="#8AA2A5"/><rect x="479.9" y="1610.9" width="3.3" height="24.3" fill="#A99D6D"/><rect x="482.9" y="1610.9" width="4.8" height="24.3" fill="#DBC6B4"/><rect x="487.4" y="1610.9" width="9.1" height="24.3" fill="#78C3C1"/><rect x="496.3" y="1610.9" width="7.9" height="24.3" fill="#8AA1A5"/><rect x="503.8" y="1610.9" width="5.3" height="24.3" fill="#C1EEDC"/><rect x="508.9" y="1610.9" width="4.6" height="24.3" fill="#6BB0B4"/>
<rect x="213.4" y="1610.9" width="13.9" height="24.3" fill="#C5366C"/>
<rect x="231.3" y="1635.2" width="9.6" height="24.3" fill="#DE7B9A"/><rect x="240.6" y="1635.2" width="2.3" height="24.3" fill="#DBC6B4"/><rect x="242.6" y="1635.2" width="4.1" height="24.3" fill="#D6E87A"/><rect x="246.4" y="1635.2" width="7.9" height="24.3" fill="#8F78CF"/><rect x="253.9" y="1635.2" width="7.1" height="24.3" fill="#8FE3A7"/><rect x="260.7" y="1635.2" width="2.8" height="24.3" fill="#DECA6C"/><rect x="263.3" y="1635.2" width="2.1" height="24.3" fill="#D09CDD"/><rect x="265" y="1635.2" width="45.9" height="24.3" fill="#E5786B"/><rect x="310.6" y="1635.2" width="45.6" height="24.3" fill="#A86D9B"/><rect x="356" y="1635.2" width="15.4" height="24.3" fill="#8BAF79"/><rect x="371.1" y="1635.2" width="18.4" height="24.3" fill="#DBE4AE"/><rect x="389.2" y="1635.2" width="8.4" height="24.3" fill="#E8AC75"/><rect x="397.3" y="1635.2" width="2.3" height="24.3" fill="#8AA2A5"/><rect x="399.3" y="1635.2" width="4.1" height="24.3" fill="#A99D6D"/><rect x="403.1" y="1635.2" width="4.8" height="24.3" fill="#DBC6B4"/><rect x="407.6" y="1635.2" width="14.2" height="24.3" fill="#78C3C1"/><rect x="421.5" y="1635.2" width="5.3" height="24.3" fill="#8AA1A5"/><rect x="426.5" y="1635.2" width="4.6" height="24.3" fill="#C1EEDC"/><rect x="430.8" y="1635.2" width="4.1" height="24.3" fill="#6BB0B4"/>
<rect x="213.4" y="1635.2" width="13.9" height="24.3" fill="#C5366C"/>
<rect x="231.3" y="1659.5" width="248.9" height="24.3" fill="#DE7B9A"/><rect x="479.9" y="1659.5" width="2.7" height="24.3" fill="#96E17C"/><rect x="482.3" y="1659.5" width="1.6" height="24.3" fill="#8F78CF"/><rect x="483.6" y="1659.5" width="3.8" height="24.3" fill="#DBC6B4"/><rect x="487.1" y="1659.5" width="3.4" height="24.3" fill="#98A8DD"/><rect x="490.2" y="1659.5" width="50" height="24.3" fill="#E5786B"/><rect x="539.9" y="1659.5" width="2.6" height="24.3" fill="#DBC6B4"/><rect x="542.2" y="1659.5" width="13.7" height="24.3" fill="#A86D9B"/><rect x="555.6" y="1659.5" width="2.5" height="24.3" fill="#8BAF79"/><rect x="557.8" y="1659.5" width="5.9" height="24.3" fill="#DBE4AE"/><rect x="563.4" y="1659.5" width="1.9" height="24.3" fill="#E8AC75"/><rect x="565" y="1659.5" width="3.8" height="24.3" fill="#C98B79"/><rect x="568.5" y="1659.5" width="8" height="24.3" fill="#DBC6B4"/><rect x="576.2" y="1659.5" width="3.4" height="24.3" fill="#78C3C1"/><rect x="579.3" y="1659.5" width="2.8" height="24.3" fill="#C1EEDC"/>
<rect x="213.4" y="1659.5" width="13.9" height="24.3" fill="#C5366C"/>
<rect x="231.3" y="1683.8" width="22.2" height="24.3" fill="#DE7B9A"/><rect x="253.2" y="1683.8" width="2.8" height="24.3" fill="#D6E87A"/><rect x="255.7" y="1683.8" width="6.1" height="24.3" fill="#8F78CF"/><rect x="261.5" y="1683.8" width="5.1" height="24.3" fill="#8FE3A7"/><rect x="266.3" y="1683.8" width="2.8" height="24.3" fill="#D09CDD"/><rect x="268.8" y="1683.8" width="75.4" height="24.3" fill="#E5786B"/><rect x="343.9" y="1683.8" width="41.4" height="24.3" fill="#A86D9B"/><rect x="384.9" y="1683.8" width="7.6" height="24.3" fill="#8BAF79"/><rect x="392.2" y="1683.8" width="29.5" height="24.3" fill="#DBE4AE"/><rect x="421.5" y="1683.8" width="5.8" height="24.3" fill="#E8AC75"/><rect x="427" y="1683.8" width="2.8" height="24.3" fill="#8AA2A5"/><rect x="429.5" y="1683.8" width="2.3" height="24.3" fill="#A99D6D"/><rect x="431.5" y="1683.8" width="3.3" height="24.3" fill="#DBC6B4"/><rect x="434.5" y="1683.8" width="5.3" height="24.3" fill="#78C3C1"/><rect x="439.6" y="1683.8" width="6.6" height="24.3" fill="#FDDCC8"/><rect x="445.9" y="1683.8" width="4.1" height="24.3" fill="#C1EEDC"/><rect x="449.7" y="1683.8" width="2.3" height="24.3" fill="#6BB0B4"/>
<rect x="213.4" y="1683.8" width="13.9" height="24.3" fill="#C5366C"/>
<rect x="231.3" y="1708" width="9.1" height="24.3" fill="#DE7B9A"/><rect x="240.1" y="1708" width="2.8" height="24.3" fill="#8F78CF"/><rect x="242.6" y="1708" width="3.8" height="24.3" fill="#8FE3A7"/><rect x="246.1" y="1708" width="18.7" height="24.3" fill="#E5786B"/><rect x="264.5" y="1708" width="22.5" height="24.3" fill="#A86D9B"/><rect x="286.7" y="1708" width="7.6" height="24.3" fill="#8BAF79"/><rect x="294" y="1708" width="8.1" height="24.3" fill="#DBE4AE"/><rect x="301.8" y="1708" width="4.6" height="24.3" fill="#E8AC75"/><rect x="306.1" y="1708" width="2.8" height="24.3" fill="#8AA2A5"/><rect x="308.6" y="1708" width="4.1" height="24.3" fill="#A99D6D"/><rect x="312.4" y="1708" width="2.3" height="24.3" fill="#DBC6B4"/><rect x="314.4" y="1708" width="5.1" height="24.3" fill="#78C3C1"/><rect x="319.2" y="1708" width="5.3" height="24.3" fill="#8AA1A5"/><rect x="324.2" y="1708" width="2.8" height="24.3" fill="#C1EEDC"/><rect x="326.7" y="1708" width="4.3" height="24.3" fill="#6BB0B4"/>
<rect x="213.4" y="1708" width="13.9" height="24.3" fill="#C5366C"/>
<rect x="231.3" y="1732.3" width="9.6" height="24.3" fill="#DE7B9A"/><rect x="240.6" y="1732.3" width="4.1" height="24.3" fill="#DA78DA"/><rect x="244.4" y="1732.3" width="4.8" height="24.3" fill="#D6E87A"/><rect x="248.9" y="1732.3" width="11.4" height="24.3" fill="#8F78CF"/><rect x="260" y="1732.3" width="4.3" height="24.3" fill="#8FE3A7"/><rect x="264" y="1732.3" width="2.6" height="24.3" fill="#DECA6C"/><rect x="266.3" y="1732.3" width="2.3" height="24.3" fill="#98A8DD"/><rect x="268.3" y="1732.3" width="44.4" height="24.3" fill="#E5786B"/><rect x="312.4" y="1732.3" width="49.4" height="24.3" fill="#A86D9B"/><rect x="361.5" y="1732.3" width="30.5" height="24.3" fill="#8BAF79"/><rect x="391.7" y="1732.3" width="21" height="24.3" fill="#DBE4AE"/><rect x="412.4" y="1732.3" width="6.6" height="24.3" fill="#E8AC75"/><rect x="418.7" y="1732.3" width="5.6" height="24.3" fill="#8AA2A5"/><rect x="424" y="1732.3" width="5.8" height="24.3" fill="#A99D6D"/><rect x="429.5" y="1732.3" width="6.6" height="24.3" fill="#DBC6B4"/><rect x="435.8" y="1732.3" width="6.6" height="24.3" fill="#78C3C1"/><rect x="442.1" y="1732.3" width="6.1" height="24.3" fill="#8AA1A5"/><rect x="447.9" y="1732.3" width="4.1" height="24.3" fill="#C1EEDC"/><rect x="451.7" y="1732.3" width="6.3" height="24.3" fill="#6BB0B4"/>
<rect x="213.4" y="1732.3" width="13.9" height="24.3" fill="#C5366C"/>
<rect x="231.3" y="1756.6" width="9.2" height="24.3" fill="#DE7B9A"/><rect x="240.2" y="1756.6" width="4.3" height="24.3" fill="#D6E87A"/><rect x="244.2" y="1756.6" width="6.6" height="24.3" fill="#8F78CF"/><rect x="250.5" y="1756.6" width="8.7" height="24.3" fill="#8FE3A7"/><rect x="258.9" y="1756.6" width="3" height="24.3" fill="#D09CDD"/><rect x="261.6" y="1756.6" width="3.9" height="24.3" fill="#DECA6C"/><rect x="265.2" y="1756.6" width="48.2" height="24.3" fill="#E5786B"/><rect x="313" y="1756.6" width="27.2" height="24.3" fill="#A86D9B"/><rect x="339.9" y="1756.6" width="27.4" height="24.3" fill="#8BAF79"/><rect x="367" y="1756.6" width="13.5" height="24.3" fill="#DBE4AE"/><rect x="380.2" y="1756.6" width="4.9" height="24.3" fill="#E8AC75"/><rect x="384.8" y="1756.6" width="4.5" height="24.3" fill="#A99D6D"/><rect x="389" y="1756.6" width="8.9" height="24.3" fill="#DBC6B4"/><rect x="397.6" y="1756.6" width="11.8" height="24.3" fill="#78C3C1"/><rect x="409.2" y="1756.6" width="9.1" height="24.3" fill="#8AA1A5"/><rect x="418" y="1756.6" width="2.4" height="24.3" fill="#C1EEDC"/><rect x="420.1" y="1756.6" width="3.9" height="24.3" fill="#6BB0B4"/>
<rect x="213.4" y="1756.6" width="13.9" height="24.3" fill="#C5366C"/>
<rect x="231.3" y="1780.9" width="4.3" height="24.3" fill="#DE7B9A"/><rect x="235.3" y="1780.9" width="2.8" height="24.3" fill="#96E17C"/><rect x="237.9" y="1780.9" width="4.5" height="24.3" fill="#DA78DA"/><rect x="242.1" y="1780.9" width="8.7" height="24.3" fill="#D6E87A"/><rect x="250.5" y="1780.9" width="3" height="24.3" fill="#8F78CF"/><rect x="253.2" y="1780.9" width="6.2" height="24.3" fill="#8FE3A7"/><rect x="259.1" y="1780.9" width="4.5" height="24.3" fill="#D09CDD"/><rect x="263.3" y="1780.9" width="3.4" height="24.3" fill="#DECA6C"/><rect x="266.4" y="1780.9" width="21.7" height="24.3" fill="#E5786B"/><rect x="287.8" y="1780.9" width="1.8" height="24.3" fill="#DBC6B4"/><rect x="289.3" y="1780.9" width="46.5" height="24.3" fill="#A86D9B"/><rect x="335.5" y="1780.9" width="37.2" height="24.3" fill="#8BAF79"/><rect x="372.4" y="1780.9" width="15.8" height="24.3" fill="#DBE4AE"/><rect x="387.9" y="1780.9" width="3" height="24.3" fill="#8AA2A5"/><rect x="390.7" y="1780.9" width="3" height="24.3" fill="#737D6C"/><rect x="393.4" y="1780.9" width="9.7" height="24.3" fill="#A99D6D"/><rect x="402.9" y="1780.9" width="7.2" height="24.3" fill="#DBC6B4"/><rect x="409.8" y="1780.9" width="8.5" height="24.3" fill="#78C3C1"/><rect x="418" y="1780.9" width="5.5" height="24.3" fill="#8AA1A5"/><rect x="423.2" y="1780.9" width="6.6" height="24.3" fill="#FDDCC8"/><rect x="429.5" y="1780.9" width="4.1" height="24.3" fill="#6BB0B4"/>
<rect x="213.4" y="1780.9" width="13.9" height="24.3" fill="#C5366C"/>
<rect x="231.3" y="1805.2" width="522.9" height="24.3" fill="#8BAF79"/>
<rect x="213.4" y="1805.2" width="13.9" height="24.3" fill="#C5366C"/>
<rect x="231.3" y="1829.5" width="6.9" height="24.3" fill="#DBE4AE"/><rect x="237.9" y="1829.5" width="2.6" height="24.3" fill="#8F78CF"/><rect x="240.2" y="1829.5" width="4.3" height="24.3" fill="#8FE3A7"/><rect x="244.2" y="1829.5" width="2.6" height="24.3" fill="#D09CDD"/><rect x="246.5" y="1829.5" width="4.3" height="24.3" fill="#DBC6B4"/><rect x="250.5" y="1829.5" width="7.9" height="24.3" fill="#E5786B"/><rect x="258" y="1829.5" width="2.2" height="24.3" fill="#DBC6B4"/><rect x="259.9" y="1829.5" width="34.9" height="24.3" fill="#A86D9B"/><rect x="294.5" y="1829.5" width="88.5" height="24.3" fill="#8BAF79"/><rect x="382.7" y="1829.5" width="17.1" height="24.3" fill="#DBE4AE"/><rect x="399.5" y="1829.5" width="4.1" height="24.3" fill="#E8AC75"/><rect x="403.3" y="1829.5" width="5.5" height="24.3" fill="#8AA2A5"/><rect x="408.5" y="1829.5" width="2.8" height="24.3" fill="#C98B79"/><rect x="411" y="1829.5" width="8.3" height="24.3" fill="#A99D6D"/><rect x="419" y="1829.5" width="6" height="24.3" fill="#DBC6B4"/><rect x="424.7" y="1829.5" width="6.6" height="24.3" fill="#78C3C1"/><rect x="431" y="1829.5" width="4.5" height="24.3" fill="#8AA1A5"/><rect x="435.2" y="1829.5" width="4.7" height="24.3" fill="#C1EEDC"/>
<rect x="213.4" y="1829.5" width="13.9" height="24.3" fill="#C5366C"/>
<rect x="231.3" y="1853.8" width="7.1" height="24.3" fill="#DE7B9A"/><rect x="238.1" y="1853.8" width="2.8" height="24.3" fill="#DBC6B4"/><rect x="240.6" y="1853.8" width="2.4" height="24.3" fill="#8F78CF"/><rect x="242.7" y="1853.8" width="7.6" height="24.3" fill="#8FE3A7"/><rect x="250" y="1853.8" width="3.9" height="24.3" fill="#DECA6C"/><rect x="253.6" y="1853.8" width="20.9" height="24.3" fill="#E5786B"/><rect x="274.2" y="1853.8" width="37.5" height="24.3" fill="#A86D9B"/><rect x="311.3" y="1853.8" width="20.2" height="24.3" fill="#8BAF79"/><rect x="331.3" y="1853.8" width="16.7" height="24.3" fill="#DBE4AE"/><rect x="347.6" y="1853.8" width="5.5" height="24.3" fill="#E8AC75"/><rect x="352.9" y="1853.8" width="2.4" height="24.3" fill="#8AA2A5"/><rect x="355" y="1853.8" width="1.8" height="24.3" fill="#737D6C"/><rect x="356.5" y="1853.8" width="2.4" height="24.3" fill="#A99D6D"/><rect x="358.6" y="1853.8" width="9.7" height="24.3" fill="#DBC6B4"/><rect x="368" y="1853.8" width="5.5" height="24.3" fill="#78C3C1"/><rect x="373.3" y="1853.8" width="4.1" height="24.3" fill="#C1EEDC"/><rect x="377" y="1853.8" width="2" height="24.3" fill="#6BB0B4"/>
<rect x="213.4" y="1853.8" width="13.9" height="24.3" fill="#C5366C"/>
<rect x="231.3" y="1878" width="3.7" height="24.3" fill="#D6E87A"/><rect x="234.7" y="1878" width="2.6" height="24.3" fill="#8F78CF"/><rect x="237" y="1878" width="3.2" height="24.3" fill="#8FE3A7"/><rect x="240" y="1878" width="2.6" height="24.3" fill="#DECA6C"/><rect x="242.3" y="1878" width="1.8" height="24.3" fill="#E5786B"/><rect x="243.7" y="1878" width="2.4" height="24.3" fill="#D09CDD"/><rect x="245.8" y="1878" width="40.6" height="24.3" fill="#A86D9B"/><rect x="286.1" y="1878" width="7.2" height="24.3" fill="#8BAF79"/><rect x="293.1" y="1878" width="24" height="24.3" fill="#DBE4AE"/><rect x="316.8" y="1878" width="22.1" height="24.3" fill="#8AA2A5"/><rect x="338.6" y="1878" width="4.1" height="24.3" fill="#737D6C"/><rect x="342.4" y="1878" width="79.4" height="24.3" fill="#A99D6D"/><rect x="421.5" y="1878" width="3.4" height="24.3" fill="#DBC6B4"/><rect x="424.7" y="1878" width="3.7" height="24.3" fill="#78C3C1"/><rect x="428" y="1878" width="4.3" height="24.3" fill="#E9FBCB"/><rect x="432" y="1878" width="20.5" height="24.3" fill="#F8D6BC"/>
<rect x="213.4" y="1878" width="13.9" height="24.3" fill="#C5366C"/>
<rect x="231.3" y="1902.3" width="5.4" height="24.3" fill="#9ADCC4"/><rect x="236.4" y="1902.3" width="10.2" height="24.3" fill="#A86D9B"/><rect x="246.3" y="1902.3" width="2" height="24.3" fill="#8AA2A5"/><rect x="247.9" y="1902.3" width="11.4" height="24.3" fill="#DBE4AE"/><rect x="259.1" y="1902.3" width="94.5" height="24.3" fill="#8AA2A5"/><rect x="353.3" y="1902.3" width="31.4" height="24.3" fill="#A99D6D"/><rect x="384.4" y="1902.3" width="2.8" height="24.3" fill="#DBC6B4"/><rect x="386.9" y="1902.3" width="3" height="24.3" fill="#E9FBCB"/><rect x="389.6" y="1902.3" width="6" height="24.3" fill="#F8D6BC"/>
<rect x="213.4" y="1902.3" width="13.9" height="24.3" fill="#C5366C"/>
<rect x="231.3" y="1926.6" width="5" height="24.3" fill="#D09CDD"/><rect x="236" y="1926.6" width="4.5" height="24.3" fill="#8F78CF"/><rect x="240.2" y="1926.6" width="4.5" height="24.3" fill="#E5786B"/><rect x="244.4" y="1926.6" width="15.4" height="24.3" fill="#A86D9B"/><rect x="259.5" y="1926.6" width="3" height="24.3" fill="#8BAF79"/><rect x="262.2" y="1926.6" width="22.1" height="24.3" fill="#DBE4AE"/><rect x="284" y="1926.6" width="19.8" height="24.3" fill="#8AA2A5"/><rect x="303.6" y="1926.6" width="45.4" height="24.3" fill="#A99D6D"/><rect x="348.7" y="1926.6" width="4.5" height="24.3" fill="#DBC6B4"/><rect x="352.9" y="1926.6" width="7" height="24.3" fill="#F8D6BC"/>
<rect x="213.4" y="1926.6" width="13.9" height="24.3" fill="#C5366C"/>
<rect x="231.3" y="1950.9" width="3.9" height="24.3" fill="#D6E87A"/><rect x="234.9" y="1950.9" width="3.9" height="24.3" fill="#8F78CF"/><rect x="238.5" y="1950.9" width="3" height="24.3" fill="#D09CDD"/><rect x="241.2" y="1950.9" width="6" height="24.3" fill="#E5786B"/><rect x="246.9" y="1950.9" width="33.3" height="24.3" fill="#A86D9B"/><rect x="279.8" y="1950.9" width="7.2" height="24.3" fill="#8BAF79"/><rect x="286.8" y="1950.9" width="30.7" height="24.3" fill="#DBE4AE"/><rect x="317.2" y="1950.9" width="3.9" height="24.3" fill="#E8AC75"/><rect x="320.8" y="1950.9" width="16.7" height="24.3" fill="#8AA2A5"/><rect x="337.2" y="1950.9" width="3.9" height="24.3" fill="#C98B79"/><rect x="340.7" y="1950.9" width="64.5" height="24.3" fill="#A99D6D"/><rect x="405" y="1950.9" width="2.8" height="24.3" fill="#DBC6B4"/><rect x="407.5" y="1950.9" width="4.9" height="24.3" fill="#78C3C1"/><rect x="412.1" y="1950.9" width="8.7" height="24.3" fill="#E9FBCB"/><rect x="420.5" y="1950.9" width="14.6" height="24.3" fill="#F8D6BC"/><rect x="434.8" y="1950.9" width="4.5" height="24.3" fill="#6BB0B4"/>
<rect x="213.4" y="1950.9" width="13.9" height="24.3" fill="#C5366C"/>
<rect x="231.3" y="1975.2" width="5" height="24.3" fill="#D6E87A"/><rect x="236" y="1975.2" width="4.9" height="24.3" fill="#8F78CF"/><rect x="240.6" y="1975.2" width="6.2" height="24.3" fill="#8FE3A7"/><rect x="246.5" y="1975.2" width="3.9" height="24.3" fill="#E5786B"/><rect x="250" y="1975.2" width="2" height="24.3" fill="#D09CDD"/><rect x="251.7" y="1975.2" width="37.9" height="24.3" fill="#A86D9B"/><rect x="289.3" y="1975.2" width="2.6" height="24.3" fill="#8BAF79"/><rect x="291.6" y="1975.2" width="16" height="24.3" fill="#DBE4AE"/><rect x="307.3" y="1975.2" width="4.3" height="24.3" fill="#E8AC75"/><rect x="311.3" y="1975.2" width="13.5" height="24.3" fill="#8AA2A5"/><rect x="324.6" y="1975.2" width="2.4" height="24.3" fill="#C98B79"/><rect x="326.7" y="1975.2" width="37.7" height="24.3" fill="#A99D6D"/><rect x="364" y="1975.2" width="5.3" height="24.3" fill="#DBC6B4"/><rect x="369.1" y="1975.2" width="4.7" height="24.3" fill="#78C3C1"/><rect x="373.5" y="1975.2" width="8.5" height="24.3" fill="#8AA1A5"/><rect x="381.7" y="1975.2" width="3" height="24.3" fill="#E9FBCB"/><rect x="384.4" y="1975.2" width="4.5" height="24.3" fill="#F8D6BC"/>
<rect x="213.4" y="1975.2" width="13.9" height="24.3" fill="#C5366C"/>
<rect x="231.3" y="1999.5" width="525.5" height="24.3" fill="#A99D6D"/>
<rect x="213.4" y="1999.5" width="13.9" height="24.3" fill="#C5366C"/>
<rect x="231.3" y="2023.8" width="5.4" height="24.3" fill="#DBE4AE"/><rect x="236.4" y="2023.8" width="2.8" height="24.3" fill="#8F78CF"/><rect x="238.9" y="2023.8" width="5.5" height="24.3" fill="#DECA6C"/><rect x="244.2" y="2023.8" width="3" height="24.3" fill="#D09CDD"/><rect x="246.9" y="2023.8" width="26.5" height="24.3" fill="#A86D9B"/><rect x="273.1" y="2023.8" width="5.1" height="24.3" fill="#8BAF79"/><rect x="278" y="2023.8" width="25.5" height="24.3" fill="#DBE4AE"/><rect x="303.1" y="2023.8" width="6.4" height="24.3" fill="#8AA2A5"/><rect x="309.2" y="2023.8" width="3" height="24.3" fill="#C98B79"/><rect x="312" y="2023.8" width="33.5" height="24.3" fill="#A99D6D"/><rect x="345.1" y="2023.8" width="2.8" height="24.3" fill="#DBC6B4"/><rect x="347.6" y="2023.8" width="3" height="24.3" fill="#78C3C1"/><rect x="350.4" y="2023.8" width="40.6" height="24.3" fill="#E9FBCB"/><rect x="390.7" y="2023.8" width="4.5" height="24.3" fill="#F8D6BC"/><rect x="394.9" y="2023.8" width="3" height="24.3" fill="#C1EEDC"/>
<rect x="213.4" y="2023.8" width="13.9" height="24.3" fill="#C5366C"/>
<rect x="231.3" y="2048" width="5.4" height="24.3" fill="#D6E87A"/><rect x="236.4" y="2048" width="4.9" height="24.3" fill="#D09CDD"/><rect x="241" y="2048" width="3.7" height="24.3" fill="#DECA6C"/><rect x="244.4" y="2048" width="4.9" height="24.3" fill="#E5786B"/><rect x="249" y="2048" width="39.8" height="24.3" fill="#A86D9B"/><rect x="288.5" y="2048" width="24.2" height="24.3" fill="#DBE4AE"/><rect x="312.4" y="2048" width="11" height="24.3" fill="#8AA2A5"/><rect x="323.1" y="2048" width="18.1" height="24.3" fill="#A99D6D"/><rect x="340.9" y="2048" width="5.3" height="24.3" fill="#DBC6B4"/><rect x="346" y="2048" width="5.1" height="24.3" fill="#78C3C1"/><rect x="350.8" y="2048" width="2.8" height="24.3" fill="#8AA1A5"/><rect x="353.3" y="2048" width="8.9" height="24.3" fill="#F8D6BC"/>
<rect x="213.4" y="2048" width="13.9" height="24.3" fill="#C5366C"/>
<rect x="231.3" y="2072.3" width="5" height="24.3" fill="#8F78CF"/><rect x="236" y="2072.3" width="2.4" height="24.3" fill="#D09CDD"/><rect x="238.1" y="2072.3" width="4.3" height="24.3" fill="#E5786B"/><rect x="242.1" y="2072.3" width="24" height="24.3" fill="#A86D9B"/><rect x="265.8" y="2072.3" width="4.5" height="24.3" fill="#8BAF79"/><rect x="270" y="2072.3" width="18.8" height="24.3" fill="#DBE4AE"/><rect x="288.5" y="2072.3" width="11.8" height="24.3" fill="#8AA2A5"/><rect x="300" y="2072.3" width="2.8" height="24.3" fill="#C98B79"/><rect x="302.5" y="2072.3" width="49.6" height="24.3" fill="#A99D6D"/><rect x="351.8" y="2072.3" width="4.5" height="24.3" fill="#8AA1A5"/><rect x="356" y="2072.3" width="10.8" height="24.3" fill="#F8D6BC"/>
<rect x="213.4" y="2072.3" width="13.9" height="24.3" fill="#C5366C"/>
<rect x="231.3" y="2096.6" width="4.3" height="24.3" fill="#DE7B9A"/><rect x="235.3" y="2096.6" width="3" height="24.3" fill="#D6E87A"/><rect x="238.1" y="2096.6" width="5.3" height="24.3" fill="#8F78CF"/><rect x="243.1" y="2096.6" width="3.7" height="24.3" fill="#98A8DD"/><rect x="246.5" y="2096.6" width="2.8" height="24.3" fill="#D09CDD"/><rect x="249" y="2096.6" width="6" height="24.3" fill="#E5786B"/><rect x="254.7" y="2096.6" width="25.5" height="24.3" fill="#A86D9B"/><rect x="279.8" y="2096.6" width="4.7" height="24.3" fill="#8BAF79"/><rect x="284.3" y="2096.6" width="2.8" height="24.3" fill="#746D8C"/><rect x="286.8" y="2096.6" width="14.4" height="24.3" fill="#DBE4AE"/><rect x="300.8" y="2096.6" width="7.6" height="24.3" fill="#8AA2A5"/><rect x="308.2" y="2096.6" width="2.6" height="24.3" fill="#C98B79"/><rect x="310.5" y="2096.6" width="2.4" height="24.3" fill="#746D8C"/><rect x="312.6" y="2096.6" width="2.4" height="24.3" fill="#DBC6B4"/><rect x="314.7" y="2096.6" width="46.5" height="24.3" fill="#A99D6D"/><rect x="360.9" y="2096.6" width="11.8" height="24.3" fill="#78C3C1"/><rect x="372.4" y="2096.6" width="8.1" height="24.3" fill="#E9FBCB"/><rect x="380.2" y="2096.6" width="7" height="24.3" fill="#F8D6BC"/><rect x="386.9" y="2096.6" width="4.1" height="24.3" fill="#6BB0B4"/>
<rect x="213.4" y="2096.6" width="13.9" height="24.3" fill="#C5366C"/>
<rect x="231.3" y="2120.9" width="4.3" height="24.3" fill="#DBC6B4"/><rect x="235.3" y="2120.9" width="4.5" height="24.3" fill="#8AA2A5"/><rect x="239.5" y="2120.9" width="4.5" height="24.3" fill="#E5786B"/><rect x="243.7" y="2120.9" width="24.4" height="24.3" fill="#A86D9B"/><rect x="267.9" y="2120.9" width="9.7" height="24.3" fill="#8BAF79"/><rect x="277.3" y="2120.9" width="27" height="24.3" fill="#DBE4AE"/><rect x="304" y="2120.9" width="3.4" height="24.3" fill="#E8AC75"/><rect x="307.1" y="2120.9" width="8.3" height="24.3" fill="#8AA2A5"/><rect x="315.1" y="2120.9" width="16" height="24.3" fill="#A99D6D"/><rect x="330.9" y="2120.9" width="6" height="24.3" fill="#78C3C1"/><rect x="336.5" y="2120.9" width="3" height="24.3" fill="#E9FBCB"/><rect x="339.3" y="2120.9" width="4.1" height="24.3" fill="#F8D6BC"/>
<rect x="213.4" y="2120.9" width="13.9" height="24.3" fill="#C5366C"/>
<rect x="231.3" y="2145.2" width="4.5" height="24.3" fill="#DE7B9A"/><rect x="235.5" y="2145.2" width="7.6" height="24.3" fill="#8F78CF"/><rect x="242.7" y="2145.2" width="5.5" height="24.3" fill="#8FE3A7"/><rect x="248" y="2145.2" width="2.3" height="24.3" fill="#DECA6C"/><rect x="250" y="2145.2" width="8.5" height="24.3" fill="#E5786B"/><rect x="258.2" y="2145.2" width="2.3" height="24.3" fill="#D09CDD"/><rect x="260.2" y="2145.2" width="36.1" height="24.3" fill="#A86D9B"/><rect x="296" y="2145.2" width="23.7" height="24.3" fill="#8BAF79"/><rect x="319.4" y="2145.2" width="16.6" height="24.3" fill="#DBE4AE"/><rect x="335.7" y="2145.2" width="5.3" height="24.3" fill="#C98B79"/><rect x="340.7" y="2145.2" width="3.9" height="24.3" fill="#A99D6D"/><rect x="344.3" y="2145.2" width="3.5" height="24.3" fill="#878082"/><rect x="347.5" y="2145.2" width="4.4" height="24.3" fill="#E9FBCB"/><rect x="351.6" y="2145.2" width="4.2" height="24.3" fill="#6BB0B4"/>
<rect x="213.4" y="2145.2" width="13.9" height="24.3" fill="#C5366C"/>
<rect x="231.3" y="2169.5" width="171.6" height="24.3" fill="#96E17C"/><rect x="402.6" y="2169.5" width="4.2" height="24.3" fill="#D6E87A"/><rect x="406.4" y="2169.5" width="3.2" height="24.3" fill="#8AA2A5"/><rect x="409.4" y="2169.5" width="14.4" height="24.3" fill="#98A8DD"/><rect x="423.4" y="2169.5" width="1.4" height="24.3" fill="#C1EEDC"/><rect x="424.6" y="2169.5" width="23.7" height="24.3" fill="#A86D9B"/><rect x="447.9" y="2169.5" width="12.1" height="24.3" fill="#DBE4AE"/><rect x="459.7" y="2169.5" width="6.2" height="24.3" fill="#E8AC75"/><rect x="465.6" y="2169.5" width="8" height="24.3" fill="#C98B79"/><rect x="473.3" y="2169.5" width="2.1" height="24.3" fill="#DBC6B4"/><rect x="475.1" y="2169.5" width="3.7" height="24.3" fill="#78C3C1"/><rect x="478.5" y="2169.5" width="5.3" height="24.3" fill="#8AA1A5"/><rect x="483.5" y="2169.5" width="3.2" height="24.3" fill="#C1EEDC"/>
<rect x="213.4" y="2169.5" width="13.9" height="24.3" fill="#FF7466"/>
<rect x="231.3" y="2193.8" width="623.2" height="24.3" fill="#98A8DD"/>
<rect x="213.4" y="2193.8" width="13.9" height="24.3" fill="#FF7466"/>
<rect x="231.3" y="2218" width="4.5" height="24.3" fill="#D6E87A"/><rect x="235.5" y="2218" width="2.6" height="24.3" fill="#8F78CF"/><rect x="237.7" y="2218" width="3.5" height="24.3" fill="#DECA6C"/><rect x="240.9" y="2218" width="84.9" height="24.3" fill="#98A8DD"/><rect x="325.5" y="2218" width="20.7" height="24.3" fill="#A86D9B"/><rect x="345.9" y="2218" width="6.4" height="24.3" fill="#8BAF79"/><rect x="352" y="2218" width="2.8" height="24.3" fill="#746D8C"/><rect x="354.5" y="2218" width="9.8" height="24.3" fill="#DBE4AE"/><rect x="364" y="2218" width="2.1" height="24.3" fill="#8AA2A5"/><rect x="365.8" y="2218" width="51.1" height="24.3" fill="#C98B79"/><rect x="416.6" y="2218" width="3.7" height="24.3" fill="#737D6C"/><rect x="420" y="2218" width="4.4" height="24.3" fill="#A99D6D"/><rect x="424.1" y="2218" width="2.6" height="24.3" fill="#DBC6B4"/><rect x="426.4" y="2218" width="2.6" height="24.3" fill="#C1EEDC"/>
<rect x="213.4" y="2218" width="13.9" height="24.3" fill="#FF7466"/>
<rect x="231.3" y="2242.3" width="16.3" height="24.3" fill="#96E17C"/><rect x="247.3" y="2242.3" width="3.7" height="24.3" fill="#8F78CF"/><rect x="250.7" y="2242.3" width="2.6" height="24.3" fill="#DECA6C"/><rect x="252.9" y="2242.3" width="75.6" height="24.3" fill="#98A8DD"/><rect x="328.2" y="2242.3" width="2.1" height="24.3" fill="#E5786B"/><rect x="330" y="2242.3" width="3.7" height="24.3" fill="#9ADCC4"/><rect x="333.4" y="2242.3" width="13.9" height="24.3" fill="#A86D9B"/><rect x="347" y="2242.3" width="3.7" height="24.3" fill="#8BAF79"/><rect x="350.4" y="2242.3" width="8.9" height="24.3" fill="#DBE4AE"/><rect x="359" y="2242.3" width="63.8" height="24.3" fill="#C98B79"/><rect x="422.5" y="2242.3" width="4.6" height="24.3" fill="#DBC6B4"/>
<rect x="213.4" y="2242.3" width="13.9" height="24.3" fill="#FF7466"/>
<rect x="231.3" y="2266.6" width="10.1" height="24.3" fill="#96E17C"/><rect x="241.1" y="2266.6" width="3.7" height="24.3" fill="#D6E87A"/><rect x="244.5" y="2266.6" width="3.7" height="24.3" fill="#8F78CF"/><rect x="248" y="2266.6" width="3" height="24.3" fill="#DBC6B4"/><rect x="250.7" y="2266.6" width="65.6" height="24.3" fill="#98A8DD"/><rect x="316" y="2266.6" width="6.4" height="24.3" fill="#9ADCC4"/><rect x="322.1" y="2266.6" width="16.8" height="24.3" fill="#A86D9B"/><rect x="338.6" y="2266.6" width="12.5" height="24.3" fill="#DBE4AE"/><rect x="350.9" y="2266.6" width="69.7" height="24.3" fill="#C98B79"/><rect x="420.2" y="2266.6" width="4.8" height="24.3" fill="#DBC6B4"/><rect x="424.8" y="2266.6" width="4.2" height="24.3" fill="#78C3C1"/><rect x="428.6" y="2266.6" width="1.9" height="24.3" fill="#C1EEDC"/>
<rect x="213.4" y="2266.6" width="13.9" height="24.3" fill="#FF7466"/>
<rect x="231.3" y="2290.9" width="14.7" height="24.3" fill="#96E17C"/><rect x="245.7" y="2290.9" width="4.8" height="24.3" fill="#DA78DA"/><rect x="250.2" y="2290.9" width="4.6" height="24.3" fill="#D6E87A"/><rect x="254.5" y="2290.9" width="6.2" height="24.3" fill="#8F78CF"/><rect x="260.4" y="2290.9" width="5.3" height="24.3" fill="#8FE3A7"/><rect x="265.4" y="2290.9" width="2.6" height="24.3" fill="#D09CDD"/><rect x="267.7" y="2290.9" width="5.5" height="24.3" fill="#DECA6C"/><rect x="272.9" y="2290.9" width="27.3" height="24.3" fill="#98A8DD"/><rect x="299.9" y="2290.9" width="3.7" height="24.3" fill="#E5786B"/><rect x="303.3" y="2290.9" width="17.3" height="24.3" fill="#9ADCC4"/><rect x="320.3" y="2290.9" width="53.6" height="24.3" fill="#A86D9B"/><rect x="373.5" y="2290.9" width="17.5" height="24.3" fill="#DBE4AE"/><rect x="390.8" y="2290.9" width="8.2" height="24.3" fill="#E8AC75"/><rect x="398.7" y="2290.9" width="25" height="24.3" fill="#C98B79"/><rect x="423.4" y="2290.9" width="2.1" height="24.3" fill="#737D6C"/><rect x="425.2" y="2290.9" width="12.8" height="24.3" fill="#DBC6B4"/><rect x="437.7" y="2290.9" width="7.8" height="24.3" fill="#78C3C1"/><rect x="445.2" y="2290.9" width="12.8" height="24.3" fill="#8AA1A5"/><rect x="457.7" y="2290.9" width="9.8" height="24.3" fill="#C1EEDC"/><rect x="467.2" y="2290.9" width="3" height="24.3" fill="#6BB0B4"/>
<rect x="213.4" y="2290.9" width="13.9" height="24.3" fill="#FF7466"/>
<rect x="231.3" y="2315.2" width="22.6" height="24.3" fill="#96E17C"/><rect x="253.6" y="2315.2" width="2.3" height="24.3" fill="#D09CDD"/><rect x="255.7" y="2315.2" width="3.7" height="24.3" fill="#D6E87A"/><rect x="259.1" y="2315.2" width="2.6" height="24.3" fill="#746D8C"/><rect x="261.3" y="2315.2" width="5.1" height="24.3" fill="#D09CDD"/><rect x="266.1" y="2315.2" width="4.6" height="24.3" fill="#DECA6C"/><rect x="270.4" y="2315.2" width="35.4" height="24.3" fill="#98A8DD"/><rect x="305.5" y="2315.2" width="3.2" height="24.3" fill="#E5786B"/><rect x="308.5" y="2315.2" width="20" height="24.3" fill="#9ADCC4"/><rect x="328.2" y="2315.2" width="45.6" height="24.3" fill="#A86D9B"/><rect x="373.5" y="2315.2" width="2.1" height="24.3" fill="#8BAF79"/><rect x="375.4" y="2315.2" width="21.8" height="24.3" fill="#DBE4AE"/><rect x="396.9" y="2315.2" width="10" height="24.3" fill="#E8AC75"/><rect x="406.6" y="2315.2" width="3.7" height="24.3" fill="#8AA2A5"/><rect x="410" y="2315.2" width="34.1" height="24.3" fill="#C98B79"/><rect x="443.8" y="2315.2" width="8.5" height="24.3" fill="#DBC6B4"/><rect x="452" y="2315.2" width="3" height="24.3" fill="#78C3C1"/><rect x="454.7" y="2315.2" width="5.3" height="24.3" fill="#8AA1A5"/><rect x="459.7" y="2315.2" width="5.1" height="24.3" fill="#E9FBCB"/>
<rect x="213.4" y="2315.2" width="13.9" height="24.3" fill="#FF7466"/>
<rect x="231.3" y="2339.5" width="13.8" height="24.3" fill="#96E17C"/><rect x="244.8" y="2339.5" width="3.4" height="24.3" fill="#D6E87A"/><rect x="247.9" y="2339.5" width="4.1" height="24.3" fill="#8F78CF"/><rect x="251.7" y="2339.5" width="2.8" height="24.3" fill="#8FE3A7"/><rect x="254.2" y="2339.5" width="4.1" height="24.3" fill="#DECA6C"/><rect x="258" y="2339.5" width="33.9" height="24.3" fill="#98A8DD"/><rect x="291.6" y="2339.5" width="26.5" height="24.3" fill="#9ADCC4"/><rect x="317.8" y="2339.5" width="23.8" height="24.3" fill="#A86D9B"/><rect x="341.4" y="2339.5" width="3.4" height="24.3" fill="#8BAF79"/><rect x="344.5" y="2339.5" width="15" height="24.3" fill="#DBE4AE"/><rect x="359.2" y="2339.5" width="2.8" height="24.3" fill="#8AA2A5"/><rect x="361.7" y="2339.5" width="26.5" height="24.3" fill="#C98B79"/><rect x="387.9" y="2339.5" width="5.5" height="24.3" fill="#DBC6B4"/><rect x="393.2" y="2339.5" width="3" height="24.3" fill="#78C3C1"/>
<rect x="213.4" y="2339.5" width="13.9" height="24.3" fill="#FF7466"/>
<rect x="231.3" y="2363.7" width="7.5" height="24.3" fill="#96E17C"/><rect x="238.5" y="2363.7" width="2.8" height="24.3" fill="#8F78CF"/><rect x="241" y="2363.7" width="23.6" height="24.3" fill="#98A8DD"/><rect x="264.3" y="2363.7" width="2.2" height="24.3" fill="#E5786B"/><rect x="266.2" y="2363.7" width="36.6" height="24.3" fill="#9ADCC4"/><rect x="302.5" y="2363.7" width="15" height="24.3" fill="#A86D9B"/><rect x="317.2" y="2363.7" width="2.4" height="24.3" fill="#8BAF79"/><rect x="319.3" y="2363.7" width="8.7" height="24.3" fill="#DBE4AE"/><rect x="327.7" y="2363.7" width="5.5" height="24.3" fill="#8AA2A5"/><rect x="333" y="2363.7" width="19.2" height="24.3" fill="#C98B79"/><rect x="351.8" y="2363.7" width="2" height="24.3" fill="#DBC6B4"/><rect x="353.5" y="2363.7" width="1.8" height="24.3" fill="#C1EEDC"/>
<rect x="213.4" y="2363.7" width="13.9" height="24.3" fill="#FF7466"/>
<rect x="231.3" y="2388" width="15.9" height="24.3" fill="#96E17C"/><rect x="246.9" y="2388" width="4.9" height="24.3" fill="#8F78CF"/><rect x="251.5" y="2388" width="2.6" height="24.3" fill="#D6E87A"/><rect x="253.8" y="2388" width="33.7" height="24.3" fill="#98A8DD"/><rect x="287.2" y="2388" width="8.7" height="24.3" fill="#9ADCC4"/><rect x="295.6" y="2388" width="38.1" height="24.3" fill="#A86D9B"/><rect x="333.4" y="2388" width="19.8" height="24.3" fill="#DBE4AE"/><rect x="352.9" y="2388" width="3.4" height="24.3" fill="#E8AC75"/><rect x="356" y="2388" width="2" height="24.3" fill="#8AA2A5"/><rect x="357.7" y="2388" width="26.3" height="24.3" fill="#C98B79"/><rect x="383.8" y="2388" width="3.7" height="24.3" fill="#DBC6B4"/><rect x="387.1" y="2388" width="10.2" height="24.3" fill="#78C3C1"/><rect x="397" y="2388" width="3.9" height="24.3" fill="#8AA1A5"/><rect x="400.5" y="2388" width="3.4" height="24.3" fill="#E9FBCB"/>
<rect x="213.4" y="2388" width="13.9" height="24.3" fill="#FF7466"/>
<rect x="231.3" y="2412.3" width="24.3" height="24.3" fill="#96E17C"/><rect x="255.3" y="2412.3" width="6" height="24.3" fill="#8F78CF"/><rect x="261" y="2412.3" width="3.4" height="24.3" fill="#8FE3A7"/><rect x="264.1" y="2412.3" width="8.3" height="24.3" fill="#D09CDD"/><rect x="272.1" y="2412.3" width="13.9" height="24.3" fill="#98A8DD"/><rect x="285.7" y="2412.3" width="4.9" height="24.3" fill="#9ADCC4"/><rect x="290.3" y="2412.3" width="17.3" height="24.3" fill="#A86D9B"/><rect x="307.3" y="2412.3" width="3.2" height="24.3" fill="#DBE4AE"/><rect x="310.3" y="2412.3" width="4.5" height="24.3" fill="#E8AC75"/><rect x="314.5" y="2412.3" width="16" height="24.3" fill="#C98B79"/><rect x="330.2" y="2412.3" width="3" height="24.3" fill="#DBC6B4"/><rect x="333" y="2412.3" width="3.9" height="24.3" fill="#78C3C1"/><rect x="336.5" y="2412.3" width="2.6" height="24.3" fill="#8AA1A5"/>
<rect x="213.4" y="2412.3" width="13.9" height="24.3" fill="#FF7466"/>
<rect x="231.3" y="2436.6" width="524.1" height="24.3" fill="#DBC6B4"/>
<rect x="213.4" y="2436.6" width="13.9" height="24.3" fill="#BEBEBE"/>
</g></g>
<g stroke="#fff" stroke-opacity="0.13" stroke-width="1">
<line x1="213.4" x2="227.3" y1="32.7" y2="32.7"/>
<line x1="231.3" x2="854.2" y1="32.7" y2="32.7"/>
<line x1="213.4" x2="227.3" y1="57" y2="57"/>
<line x1="231.3" x2="854.2" y1="57" y2="57"/>
<line x1="213.4" x2="227.3" y1="81.3" y2="81.3"/>
<line x1="231.3" x2="854.2" y1="81.3" y2="81.3"/>
<line x1="213.4" x2="227.3" y1="105.5" y2="105.5"/>
<line x1="231.3" x2="854.2" y1="105.5" y2="105.5"/>
<line x1="213.4" x2="227.3" y1="129.8" y2="129.8"/>
<line x1="231.3" x2="854.2" y1="129.8" y2="129.8"/>
<line x1="213.4" x2="227.3" y1="154.1" y2="154.1"/>
<line x1="231.3" x2="854.2" y1="154.1" y2="154.1"/>
<line x1="213.4" x2="227.3" y1="178.4" y2="178.4"/>
<line x1="231.3" x2="854.2" y1="178.4" y2="178.4"/>
<line x1="213.4" x2="227.3" y1="202.7" y2="202.7"/>
<line x1="231.3" x2="854.2" y1="202.7" y2="202.7"/>
<line x1="213.4" x2="227.3" y1="227" y2="227"/>
<line x1="231.3" x2="854.2" y1="227" y2="227"/>
<line x1="213.4" x2="227.3" y1="251.2" y2="251.2"/>
<line x1="231.3" x2="854.2" y1="251.2" y2="251.2"/>
<line x1="213.4" x2="227.3" y1="275.5" y2="275.5"/>
<line x1="231.3" x2="854.2" y1="275.5" y2="275.5"/>
<line x1="213.4" x2="227.3" y1="299.8" y2="299.8"/>
<line x1="231.3" x2="854.2" y1="299.8" y2="299.8"/>
<line x1="213.4" x2="227.3" y1="324.1" y2="324.1"/>
<line x1="231.3" x2="854.2" y1="324.1" y2="324.1"/>
<line x1="213.4" x2="227.3" y1="348.4" y2="348.4"/>
<line x1="231.3" x2="854.2" y1="348.4" y2="348.4"/>
<line x1="213.4" x2="227.3" y1="372.7" y2="372.7"/>
<line x1="231.3" x2="854.2" y1="372.7" y2="372.7"/>
<line x1="213.4" x2="227.3" y1="397" y2="397"/>
<line x1="231.3" x2="854.2" y1="397" y2="397"/>
<line x1="213.4" x2="227.3" y1="421.2" y2="421.2"/>
<line x1="231.3" x2="854.2" y1="421.2" y2="421.2"/>
<line x1="213.4" x2="227.3" y1="445.5" y2="445.5"/>
<line x1="231.3" x2="854.2" y1="445.5" y2="445.5"/>
<line x1="213.4" x2="227.3" y1="469.8" y2="469.8"/>
<line x1="231.3" x2="854.2" y1="469.8" y2="469.8"/>
<line x1="213.4" x2="227.3" y1="494.1" y2="494.1"/>
<line x1="231.3" x2="854.2" y1="494.1" y2="494.1"/>
<line x1="213.4" x2="227.3" y1="518.4" y2="518.4"/>
<line x1="231.3" x2="854.2" y1="518.4" y2="518.4"/>
<line x1="213.4" x2="227.3" y1="542.7" y2="542.7"/>
<line x1="231.3" x2="854.2" y1="542.7" y2="542.7"/>
<line x1="213.4" x2="227.3" y1="567" y2="567"/>
<line x1="231.3" x2="854.2" y1="567" y2="567"/>
<line x1="213.4" x2="227.3" y1="591.2" y2="591.2"/>
<line x1="231.3" x2="854.2" y1="591.2" y2="591.2"/>
<line x1="213.4" x2="227.3" y1="615.5" y2="615.5"/>
<line x1="231.3" x2="854.2" y1="615.5" y2="615.5"/>
<line x1="213.4" x2="227.3" y1="639.8" y2="639.8"/>
<line x1="231.3" x2="854.2" y1="639.8" y2="639.8"/>
<line x1="213.4" x2="227.3" y1="664.1" y2="664.1"/>
<line x1="231.3" x2="854.2" y1="664.1" y2="664.1"/>
<line x1="213.4" x2="227.3" y1="688.4" y2="688.4"/>
<line x1="231.3" x2="854.2" y1="688.4" y2="688.4"/>
<line x1="213.4" x2="227.3" y1="712.7" y2="712.7"/>
<line x1="231.3" x2="854.2" y1="712.7" y2="712.7"/>
<line x1="213.4" x2="227.3" y1="736.9" y2="736.9"/>
<line x1="231.3" x2="854.2" y1="736.9" y2="736.9"/>
<line x1="213.4" x2="227.3" y1="761.2" y2="761.2"/>
<line x1="231.3" x2="854.2" y1="761.2" y2="761.2"/>
<line x1="213.4" x2="227.3" y1="785.5" y2="785.5"/>
<line x1="231.3" x2="854.2" y1="785.5" y2="785.5"/>
<line x1="213.4" x2="227.3" y1="809.8" y2="809.8"/>
<line x1="231.3" x2="854.2" y1="809.8" y2="809.8"/>
<line x1="213.4" x2="227.3" y1="834.1" y2="834.1"/>
<line x1="231.3" x2="854.2" y1="834.1" y2="834.1"/>
<line x1="213.4" x2="227.3" y1="858.4" y2="858.4"/>
<line x1="231.3" x2="854.2" y1="858.4" y2="858.4"/>
<line x1="213.4" x2="227.3" y1="882.7" y2="882.7"/>
<line x1="231.3" x2="854.2" y1="882.7" y2="882.7"/>
<line x1="213.4" x2="227.3" y1="906.9" y2="906.9"/>
<line x1="231.3" x2="854.2" y1="906.9" y2="906.9"/>
<line x1="213.4" x2="227.3" y1="931.2" y2="931.2"/>
<line x1="231.3" x2="854.2" y1="931.2" y2="931.2"/>
<line x1="213.4" x2="227.3" y1="955.5" y2="955.5"/>
<line x1="231.3" x2="854.2" y1="955.5" y2="955.5"/>
<line x1="213.4" x2="227.3" y1="979.8" y2="979.8"/>
<line x1="231.3" x2="854.2" y1="979.8" y2="979.8"/>
<line x1="213.4" x2="227.3" y1="1004.1" y2="1004.1"/>
<line x1="231.3" x2="854.2" y1="1004.1" y2="1004.1"/>
<line x1="213.4" x2="227.3" y1="1028.4" y2="1028.4"/>
<line x1="231.3" x2="854.2" y1="1028.4" y2="1028.4"/>
<line x1="213.4" x2="227.3" y1="1052.7" y2="1052.7"/>
<line x1="231.3" x2="854.2" y1="1052.7" y2="1052.7"/>
<line x1="213.4" x2="227.3" y1="1076.9" y2="1076.9"/>
<line x1="231.3" x2="854.2" y1="1076.9" y2="1076.9"/>
<line x1="213.4" x2="227.3" y1="1101.2" y2="1101.2"/>
<line x1="231.3" x2="854.2" y1="1101.2" y2="1101.2"/>
<line x1="213.4" x2="227.3" y1="1125.5" y2="1125.5"/>
<line x1="231.3" x2="854.2" y1="1125.5" y2="1125.5"/>
<line x1="213.4" x2="227.3" y1="1149.8" y2="1149.8"/>
<line x1="231.3" x2="854.2" y1="1149.8" y2="1149.8"/>
<line x1="213.4" x2="227.3" y1="1174.1" y2="1174.1"/>
<line x1="231.3" x2="854.2" y1="1174.1" y2="1174.1"/>
<line x1="213.4" x2="227.3" y1="1198.4" y2="1198.4"/>
<line x1="231.3" x2="854.2" y1="1198.4" y2="1198.4"/>
<line x1="213.4" x2="227.3" y1="1222.6" y2="1222.6"/>
<line x1="231.3" x2="854.2" y1="1222.6" y2="1222.6"/>
<line x1="213.4" x2="227.3" y1="1246.9" y2="1246.9"/>
<line x1="231.3" x2="854.2" y1="1246.9" y2="1246.9"/>
<line x1="213.4" x2="227.3" y1="1271.2" y2="1271.2"/>
<line x1="231.3" x2="854.2" y1="1271.2" y2="1271.2"/>
<line x1="213.4" x2="227.3" y1="1295.5" y2="1295.5"/>
<line x1="231.3" x2="854.2" y1="1295.5" y2="1295.5"/>
<line x1="213.4" x2="227.3" y1="1319.8" y2="1319.8"/>
<line x1="231.3" x2="854.2" y1="1319.8" y2="1319.8"/>
<line x1="213.4" x2="227.3" y1="1344.1" y2="1344.1"/>
<line x1="231.3" x2="854.2" y1="1344.1" y2="1344.1"/>
<line x1="213.4" x2="227.3" y1="1368.4" y2="1368.4"/>
<line x1="231.3" x2="854.2" y1="1368.4" y2="1368.4"/>
<line x1="213.4" x2="227.3" y1="1392.6" y2="1392.6"/>
<line x1="231.3" x2="854.2" y1="1392.6" y2="1392.6"/>
<line x1="213.4" x2="227.3" y1="1416.9" y2="1416.9"/>
<line x1="231.3" x2="854.2" y1="1416.9" y2="1416.9"/>
<line x1="213.4" x2="227.3" y1="1441.2" y2="1441.2"/>
<line x1="231.3" x2="854.2" y1="1441.2" y2="1441.2"/>
<line x1="213.4" x2="227.3" y1="1465.5" y2="1465.5"/>
<line x1="231.3" x2="854.2" y1="1465.5" y2="1465.5"/>
<line x1="213.4" x2="227.3" y1="1489.8" y2="1489.8"/>
<line x1="231.3" x2="854.2" y1="1489.8" y2="1489.8"/>
<line x1="213.4" x2="227.3" y1="1514.1" y2="1514.1"/>
<line x1="231.3" x2="854.2" y1="1514.1" y2="1514.1"/>
<line x1="213.4" x2="227.3" y1="1538.4" y2="1538.4"/>
<line x1="231.3" x2="854.2" y1="1538.4" y2="1538.4"/>
<line x1="213.4" x2="227.3" y1="1562.6" y2="1562.6"/>
<line x1="231.3" x2="854.2" y1="1562.6" y2="1562.6"/>
<line x1="213.4" x2="227.3" y1="1586.9" y2="1586.9"/>
<line x1="231.3" x2="854.2" y1="1586.9" y2="1586.9"/>
<line x1="213.4" x2="227.3" y1="1611.2" y2="1611.2"/>
<line x1="231.3" x2="854.2" y1="1611.2" y2="1611.2"/>
<line x1="213.4" x2="227.3" y1="1635.5" y2="1635.5"/>
<line x1="231.3" x2="854.2" y1="1635.5" y2="1635.5"/>
<line x1="213.4" x2="227.3" y1="1659.8" y2="1659.8"/>
<line x1="231.3" x2="854.2" y1="1659.8" y2="1659.8"/>
<line x1="213.4" x2="227.3" y1="1684.1" y2="1684.1"/>
<line x1="231.3" x2="854.2" y1="1684.1" y2="1684.1"/>
<line x1="213.4" x2="227.3" y1="1708.3" y2="1708.3"/>
<line x1="231.3" x2="854.2" y1="1708.3" y2="1708.3"/>
<line x1="213.4" x2="227.3" y1="1732.6" y2="1732.6"/>
<line x1="231.3" x2="854.2" y1="1732.6" y2="1732.6"/>
<line x1="213.4" x2="227.3" y1="1756.9" y2="1756.9"/>
<line x1="231.3" x2="854.2" y1="1756.9" y2="1756.9"/>
<line x1="213.4" x2="227.3" y1="1781.2" y2="1781.2"/>
<line x1="231.3" x2="854.2" y1="1781.2" y2="1781.2"/>
<line x1="213.4" x2="227.3" y1="1805.5" y2="1805.5"/>
<line x1="231.3" x2="854.2" y1="1805.5" y2="1805.5"/>
<line x1="213.4" x2="227.3" y1="1829.8" y2="1829.8"/>
<line x1="231.3" x2="854.2" y1="1829.8" y2="1829.8"/>
<line x1="213.4" x2="227.3" y1="1854.1" y2="1854.1"/>
<line x1="231.3" x2="854.2" y1="1854.1" y2="1854.1"/>
<line x1="213.4" x2="227.3" y1="1878.3" y2="1878.3"/>
<line x1="231.3" x2="854.2" y1="1878.3" y2="1878.3"/>
<line x1="213.4" x2="227.3" y1="1902.6" y2="1902.6"/>
<line x1="231.3" x2="854.2" y1="1902.6" y2="1902.6"/>
<line x1="213.4" x2="227.3" y1="1926.9" y2="1926.9"/>
<line x1="231.3" x2="854.2" y1="1926.9" y2="1926.9"/>
<line x1="213.4" x2="227.3" y1="1951.2" y2="1951.2"/>
<line x1="231.3" x2="854.2" y1="1951.2" y2="1951.2"/>
<line x1="213.4" x2="227.3" y1="1975.5" y2="1975.5"/>
<line x1="231.3" x2="854.2" y1="1975.5" y2="1975.5"/>
<line x1="213.4" x2="227.3" y1="1999.8" y2="1999.8"/>
<line x1="231.3" x2="854.2" y1="1999.8" y2="1999.8"/>
<line x1="213.4" x2="227.3" y1="2024.1" y2="2024.1"/>
<line x1="231.3" x2="854.2" y1="2024.1" y2="2024.1"/>
<line x1="213.4" x2="227.3" y1="2048.3" y2="2048.3"/>
<line x1="231.3" x2="854.2" y1="2048.3" y2="2048.3"/>
<line x1="213.4" x2="227.3" y1="2072.6" y2="2072.6"/>
<line x1="231.3" x2="854.2" y1="2072.6" y2="2072.6"/>
<line x1="213.4" x2="227.3" y1="2096.9" y2="2096.9"/>
<line x1="231.3" x2="854.2" y1="2096.9" y2="2096.9"/>
<line x1="213.4" x2="227.3" y1="2121.2" y2="2121.2"/>
<line x1="231.3" x2="854.2" y1="2121.2" y2="2121.2"/>
<line x1="213.4" x2="227.3" y1="2145.5" y2="2145.5"/>
<line x1="231.3" x2="854.2" y1="2145.5" y2="2145.5"/>
<line x1="213.4" x2="227.3" y1="2169.8" y2="2169.8"/>
<line x1="231.3" x2="854.2" y1="2169.8" y2="2169.8"/>
<line x1="213.4" x2="227.3" y1="2194.1" y2="2194.1"/>
<line x1="231.3" x2="854.2" y1="2194.1" y2="2194.1"/>
<line x1="213.4" x2="227.3" y1="2218.3" y2="2218.3"/>
<line x1="231.3" x2="854.2" y1="2218.3" y2="2218.3"/>
<line x1="213.4" x2="227.3" y1="2242.6" y2="2242.6"/>
<line x1="231.3" x2="854.2" y1="2242.6" y2="2242.6"/>
<line x1="213.4" x2="227.3" y1="2266.9" y2="2266.9"/>
<line x1="231.3" x2="854.2" y1="2266.9" y2="2266.9"/>
<line x1="213.4" x2="227.3" y1="2291.2" y2="2291.2"/>
<line x1="231.3" x2="854.2" y1="2291.2" y2="2291.2"/>
<line x1="213.4" x2="227.3" y1="2315.5" y2="2315.5"/>
<line x1="231.3" x2="854.2" y1="2315.5" y2="2315.5"/>
<line x1="213.4" x2="227.3" y1="2339.8" y2="2339.8"/>
<line x1="231.3" x2="854.2" y1="2339.8" y2="2339.8"/>
<line x1="213.4" x2="227.3" y1="2364" y2="2364"/>
<line x1="231.3" x2="854.2" y1="2364" y2="2364"/>
<line x1="213.4" x2="227.3" y1="2388.3" y2="2388.3"/>
<line x1="231.3" x2="854.2" y1="2388.3" y2="2388.3"/>
<line x1="213.4" x2="227.3" y1="2412.6" y2="2412.6"/>
<line x1="231.3" x2="854.2" y1="2412.6" y2="2412.6"/>
<line x1="213.4" x2="227.3" y1="2436.9" y2="2436.9"/>
<line x1="231.3" x2="854.2" y1="2436.9" y2="2436.9"/>
</g>
<g fill="none" stroke="#000" stroke-width="1.5">
<rect x="212.7" y="1.9" width="15.4" height="2465.2"/>
<rect x="231.3" y="1.9" width="622.9" height="2465.2"/>
<line x1="231.3" x2="231.3" y1="2467.1" y2="2473.2"/>
<line x1="355.9" x2="355.9" y1="2467.1" y2="2473.2"/>
<line x1="480.5" x2="480.5" y1="2467.1" y2="2473.2"/>
<line x1="605" x2="605" y1="2467.1" y2="2473.2"/>
<line x1="729.6" x2="729.6" y1="2467.1" y2="2473.2"/>
<line x1="854.2" x2="854.2" y1="2467.1" y2="2473.2"/>
</g>
<g transform="scale(1,1.03)">
<text class="yl" x="206.2" y="25.24">MGVL68</text>
<text class="yl" x="206.2" y="48.81">MGVL67</text>
<text class="yl" x="206.2" y="72.39">MGVL66</text>
<text class="yl" x="206.2" y="95.97">MGVL65</text>
<text class="yl" x="206.2" y="119.55">MGVL64</text>
<text class="yl" letter-spacing="0.03" x="206.2" y="143.12">Aureococcusviruses</text>
<text class="yl" x="206.2" y="166.70">MGVL63</text>
<text class="yl" x="206.2" y="190.28">MGVL62</text>
<text class="yl" x="206.2" y="213.86">MGVL61</text>
<text class="yl" x="206.2" y="237.43">MGVL60</text>
<text class="yl" x="206.2" y="261.01">MGVL59</text>
<text class="yl" letter-spacing="0.03" x="206.2" y="284.59">Tetraselmisviruses</text>
<text class="yl" x="206.2" y="308.17">MGVL58</text>
<text class="yl" x="206.2" y="331.75">MGVL57</text>
<text class="yl" x="206.2" y="355.32">MGVL56</text>
<text class="yl" x="206.2" y="378.90">MGVL55</text>
<text class="yl" x="206.2" y="402.48">MGVL54</text>
<text class="yl" x="206.2" y="426.06">MGVL53</text>
<text class="yl" x="206.2" y="449.63">YLMV</text>
<text class="yl" x="206.2" y="473.21">MGVL52</text>
<text class="yl" x="206.2" y="496.79">MGVL51</text>
<text class="yl" x="206.2" y="520.37">MGVL50</text>
<text class="yl" x="206.2" y="543.94">MGVL49</text>
<text class="yl" x="206.2" y="567.52">MGVL48</text>
<text class="yl" x="206.2" y="591.10">MGVL47</text>
<text class="yl" letter-spacing="0.03" x="203.9" y="614.68">Phaeocystisviruses</text>
<text class="yl" letter-spacing="0.12" x="203.9" y="638.25">Chrysochromulinaviruses</text>
<text class="yl" x="206.2" y="661.83">MGVL46</text>
<text class="yl" x="206.2" y="685.41">MGVL45</text>
<text class="yl" x="206.2" y="708.99">MGVL44</text>
<text class="yl" x="206.2" y="732.57">MGVL43</text>
<text class="yl" x="206.2" y="756.14">OLPV</text>
<text class="yl" x="206.2" y="779.72">MGVL42</text>
<text class="yl" x="206.2" y="803.30">MGVL41</text>
<text class="yl" x="206.2" y="826.88">MGVL40</text>
<text class="yl" x="206.2" y="850.45">MGVL39</text>
<text class="yl" x="206.2" y="874.03">MGVL38</text>
<text class="yl" x="206.2" y="897.61">MGVL37</text>
<text class="yl" x="206.2" y="921.19">MGVL36</text>
<text class="yl" x="206.2" y="944.76">MGVL35</text>
<text class="yl" x="206.2" y="968.34">MGVL34</text>
<text class="yl" x="206.2" y="991.92">MGVL33</text>
<text class="yl" x="206.2" y="1015.50">MGVL32</text>
<text class="yl" letter-spacing="0.03" x="206.2" y="1039.08">Cafeteriaviruses</text>
<text class="yl" x="206.2" y="1062.65">MGVL31</text>
<text class="yl" letter-spacing="0.03" x="206.2" y="1086.23">Namaoviruses</text>
<text class="yl" letter-spacing="0.03" x="206.2" y="1109.81">Faunusviruses</text>
<text class="yl" letter-spacing="0.03" x="206.2" y="1133.39">Klosneuviruses</text>
<text class="yl" letter-spacing="0.03" x="206.2" y="1156.96">Megamimiviruses</text>
<text class="yl" x="206.2" y="1180.54">MGVL30</text>
<text class="yl" x="206.2" y="1204.12">MGVL29</text>
<text class="yl" letter-spacing="0.03" x="206.2" y="1227.70">Prasinoviruses</text>
<text class="yl" x="206.2" y="1251.27">YLPV</text>
<text class="yl" letter-spacing="0.03" x="206.2" y="1274.85">Chloroviruses</text>
<text class="yl" x="206.2" y="1298.43">MGVL28</text>
<text class="yl" letter-spacing="0.03" x="206.2" y="1322.01">Raphidoviruses</text>
<text class="yl" letter-spacing="0.03" x="206.2" y="1345.58">Phaeoviruses</text>
<text class="yl" letter-spacing="0.03" x="206.2" y="1369.16">Sylvanviruses</text>
<text class="yl" letter-spacing="0.03" x="206.2" y="1392.74">Pandoraviruses</text>
<text class="yl" letter-spacing="0.03" x="206.2" y="1416.32">Molliviruses</text>
<text class="yl" x="206.2" y="1439.90">MGVL27</text>
<text class="yl" x="206.2" y="1463.47">MGVL26</text>
<text class="yl" x="206.2" y="1487.05">MGVL25</text>
<text class="yl" x="206.2" y="1510.63">MGVL24</text>
<text class="yl" letter-spacing="0.03" x="206.2" y="1534.21">Coccolithoviruses</text>
<text class="yl" letter-spacing="0.03" x="206.2" y="1557.78">Medusaviruses</text>
<text class="yl" letter-spacing="0.03" x="206.2" y="1581.36">Iridoviruses</text>
<text class="yl" x="206.2" y="1604.94">MGVL23</text>
<text class="yl" letter-spacing="0.03" x="206.2" y="1628.52">Ascoviruses</text>
<text class="yl" x="206.2" y="1652.09">MGVL22</text>
<text class="yl" x="206.2" y="1675.67">MGVL21</text>
<text class="yl" x="206.2" y="1699.25">MGVL20</text>
<text class="yl" x="206.2" y="1722.83">MGVL19</text>
<text class="yl" x="206.2" y="1746.41">MGVL18</text>
<text class="yl" letter-spacing="0.03" x="206.2" y="1769.98">Marseilleviruses</text>
<text class="yl" x="206.2" y="1793.56">MGVL17</text>
<text class="yl" x="206.2" y="1817.14">MGVL16</text>
<text class="yl" letter-spacing="0.03" x="206.2" y="1840.72">Solumviruses</text>
<text class="yl" letter-spacing="0.03" x="206.2" y="1864.29">Orpheoviruses</text>
<text class="yl" x="206.2" y="1887.87">MGVL15</text>
<text class="yl" x="206.2" y="1911.45">MGVL14</text>
<text class="yl" x="206.2" y="1935.03">MGVL13</text>
<text class="yl" letter-spacing="0.03" x="206.2" y="1958.60">Pithocedratviruses</text>
<text class="yl" letter-spacing="0.03" x="206.2" y="1982.18">Soliviruses</text>
<text class="yl" x="206.2" y="2005.76">MGVL12</text>
<text class="yl" x="206.2" y="2029.34">MGVL11</text>
<text class="yl" x="206.2" y="2052.92">MGVL10</text>
<text class="yl" x="206.2" y="2076.49">MGVL9</text>
<text class="yl" x="206.2" y="2100.07">MGVL8</text>
<text class="yl" letter-spacing="0.03" x="206.2" y="2123.65">Asfarviruses</text>
<text class="yl" letter-spacing="0.03" x="206.2" y="2147.23">Faustoviruses</text>
<text class="yl" letter-spacing="0.03" x="206.2" y="2170.80">Pacmanviruses</text>
<text class="yl" x="206.2" y="2194.38">MGVL7</text>
<text class="yl" x="206.2" y="2217.96">MGVL6</text>
<text class="yl" x="206.2" y="2241.54">MGVL5</text>
<text class="yl" x="206.2" y="2265.11">MGVL4</text>
<text class="yl" x="206.2" y="2288.69">MGVL3</text>
<text class="yl" letter-spacing="0.03" x="206.2" y="2312.27">Kaumoebaviruses</text>
<text class="yl" x="206.2" y="2335.85">MGVL2</text>
<text class="yl" x="206.2" y="2359.42">MGVL1</text>
<text class="yl" letter-spacing="0.03" x="206.2" y="2383.00">Poxviruses</text>
</g>
<g transform="scale(1,1.03)">
<text class="xt" x="231.3" y="2421.55">0%</text>
<text class="xt" x="355.9" y="2421.55">20%</text>
<text class="xt" x="480.5" y="2421.55">40%</text>
<text class="xt" x="605" y="2421.55">60%</text>
<text class="xt" x="729.6" y="2421.55">80%</text>
<text class="xt" x="854.2" y="2421.55">100%</text>
</g>
<text class="xl" x="535" y="2516.5">proportion of pangenome with best blastp hits vs known NCDLV lineages</text>
<text class="lt" x="868.5" y="31.9">Superclade</text>
<rect x="875" y="53" width="35.3" height="35.3" fill="#FB8D80"/>
<text class="sl" x="918.2" y="79.6">SC1</text>
<rect x="875" y="91.1" width="35.3" height="35.3" fill="#D0608E"/>
<text class="sl" x="918.2" y="117.7">SC2</text>
<rect x="875" y="129.3" width="35.3" height="35.3" fill="#A3A761"/>
<text class="sl" x="918.2" y="155.9">SC3</text>
<rect x="875" y="167.4" width="35.3" height="35.3" fill="#FDD877"/>
<text class="sl" x="918.2" y="194">SC4</text>
<rect x="875" y="205.6" width="35.3" height="35.3" fill="#5679B1"/>
<text class="sl" x="918.2" y="232.2">SC5</text>
<rect x="875" y="243.7" width="35.3" height="35.3" fill="#927967"/>
<text class="sl" x="918.2" y="270.3">SC6</text>
<rect x="875" y="281.8" width="35.3" height="35.3" fill="#E2AF5E"/>
<text class="sl" x="918.2" y="308.4">SC7</text>
<rect x="875" y="320" width="35.3" height="35.3" fill="#828169"/>
<text class="sl" x="918.2" y="346.6">SC8</text>
<rect x="875" y="358.1" width="35.3" height="35.3" fill="#EBC0D7"/>
<text class="sl" x="918.2" y="384.7">SC9</text>
<rect x="875" y="396.3" width="35.3" height="35.3" fill="#E0D0B0"/>
<text class="sl" x="918.2" y="422.9">SC10</text>
<text class="lt" x="872.2" y="515.3">Reference lineages</text>
<rect x="867.2" y="531.6" width="330" height="1011.5" fill="#FAFAFA"/>
<rect x="874.6" y="540.6" width="40.4" height="13.8" fill="#DE7B9A"/>
<text class="rl" x="930.8" y="554.5">Ascoviruses</text>
<rect x="874.6" y="570.2" width="40.4" height="13.8" fill="#96E17C"/>
<text class="rl" x="930.8" y="584.1">Asfarviruses</text>
<rect x="874.6" y="599.8" width="40.4" height="13.8" fill="#DA78DA"/>
<text class="rl" x="930.8" y="613.7">Aureococcusviruses</text>
<rect x="874.6" y="629.4" width="40.4" height="13.8" fill="#D6E87A"/>
<text class="rl" x="930.8" y="643.3">Cafeteriaviruses</text>
<rect x="874.6" y="659" width="40.4" height="13.8" fill="#8F78CF"/>
<text class="rl" x="930.8" y="672.9">Chloroviruses</text>
<rect x="874.6" y="688.6" width="40.4" height="13.8" fill="#8FE3A7"/>
<text class="rl" x="930.8" y="702.5">Chrysochromulinaviruses</text>
<rect x="874.6" y="718.2" width="40.4" height="13.8" fill="#D09CDD"/>
<text class="rl" x="930.8" y="732.1">Coccolithoviruses</text>
<rect x="874.6" y="747.8" width="40.4" height="13.8" fill="#DECA6C"/>
<text class="rl" x="930.8" y="761.7">Faunusviruses</text>
<rect x="874.6" y="777.4" width="40.4" height="13.8" fill="#98A8DD"/>
<text class="rl" x="930.8" y="791.3">Faustoviruses</text>
<rect x="874.6" y="807" width="40.4" height="13.8" fill="#E5786B"/>
<text class="rl" x="930.8" y="820.9">Iridoviruses</text>
<rect x="874.6" y="836.6" width="40.4" height="13.8" fill="#9ADCC4"/>
<text class="rl" x="930.8" y="850.5">Kaumoebaviruses</text>
<rect x="874.6" y="866.3" width="40.4" height="13.8" fill="#A86D9B"/>
<text class="rl" x="930.8" y="880.2">Klosneuviruses</text>
<rect x="874.6" y="895.9" width="40.4" height="13.8" fill="#8BAF79"/>
<text class="rl" x="930.8" y="909.8">Marseilleviruses</text>
<rect x="874.6" y="925.5" width="40.4" height="13.8" fill="#746D8C"/>
<text class="rl" x="930.8" y="939.4">Medusaviruses</text>
<rect x="874.6" y="955.1" width="40.4" height="13.8" fill="#DBE4AE"/>
<text class="rl" x="930.8" y="969">Megamimiviruses</text>
<rect x="874.6" y="984.7" width="40.4" height="13.8" fill="#8D6666"/>
<text class="rl" x="930.8" y="998.6">Molliviruses</text>
<rect x="874.6" y="1014.3" width="40.4" height="13.8" fill="#AAD5E2"/>
<text class="rl" x="930.8" y="1028.2">Namaoviruses</text>
<rect x="874.6" y="1043.9" width="40.4" height="13.8" fill="#E8AC75"/>
<text class="rl" x="930.8" y="1057.8">OLPV</text>
<rect x="874.6" y="1073.5" width="40.4" height="13.8" fill="#8AA2A5"/>
<text class="rl" x="930.8" y="1087.4">Orpheoviruses</text>
<rect x="874.6" y="1103.1" width="40.4" height="13.8" fill="#C98B79"/>
<text class="rl" x="930.8" y="1117">Pacmanviruses</text>
<rect x="874.6" y="1132.7" width="40.4" height="13.8" fill="#737D6C"/>
<text class="rl" x="930.8" y="1146.6">Pandoraviruses</text>
<rect x="874.6" y="1162.3" width="40.4" height="13.8" fill="#D6B0CB"/>
<text class="rl" x="930.8" y="1176.2">Phaeoviruses</text>
<rect x="874.6" y="1191.9" width="40.4" height="13.8" fill="#A99D6D"/>
<text class="rl" x="930.8" y="1205.8">Pithocedratviruses</text>
<rect x="874.6" y="1221.5" width="40.4" height="13.8" fill="#DBC6B4"/>
<text class="rl" x="930.8" y="1235.4">Poxviruses</text>
<rect x="874.6" y="1251.1" width="40.4" height="13.8" fill="#78C3C1"/>
<text class="rl" x="930.8" y="1265">Prasinoviruses</text>
<rect x="874.6" y="1280.7" width="40.4" height="13.8" fill="#8AA1A5"/>
<text class="rl" x="930.8" y="1294.6">Phaeocystisviruses</text>
<rect x="874.6" y="1310.3" width="40.4" height="13.8" fill="#878082"/>
<text class="rl" x="930.8" y="1324.2">Raphidoviruses</text>
<rect x="874.6" y="1339.9" width="40.4" height="13.8" fill="#E9FBCB"/>
<text class="rl" x="930.8" y="1353.8">Soliviruses</text>
<rect x="874.6" y="1369.5" width="40.4" height="13.8" fill="#F8D6BC"/>
<text class="rl" x="930.8" y="1383.4">Solumviruses</text>
<rect x="874.6" y="1399.1" width="40.4" height="13.8" fill="#FDDCC8"/>
<text class="rl" x="930.8" y="1413">Sylvanviruses</text>
<rect x="874.6" y="1428.8" width="40.4" height="13.8" fill="#C1EEDC"/>
<text class="rl" x="930.8" y="1442.7">Tetraselmisviruses</text>
<rect x="874.6" y="1458.4" width="40.4" height="13.8" fill="#B5CAB2"/>
<text class="rl" x="930.8" y="1472.3">YLMV</text>
<rect x="874.6" y="1488" width="40.4" height="13.8" fill="#6BB0B4"/>
<text class="rl" x="930.8" y="1501.9">YLPV</text>
<rect x="874.6" y="1517.6" width="40.4" height="13.8" fill="#4D4D4D"/>
<text class="rl" x="930.8" y="1531.5">nohits</text>
</svg></body></html>
